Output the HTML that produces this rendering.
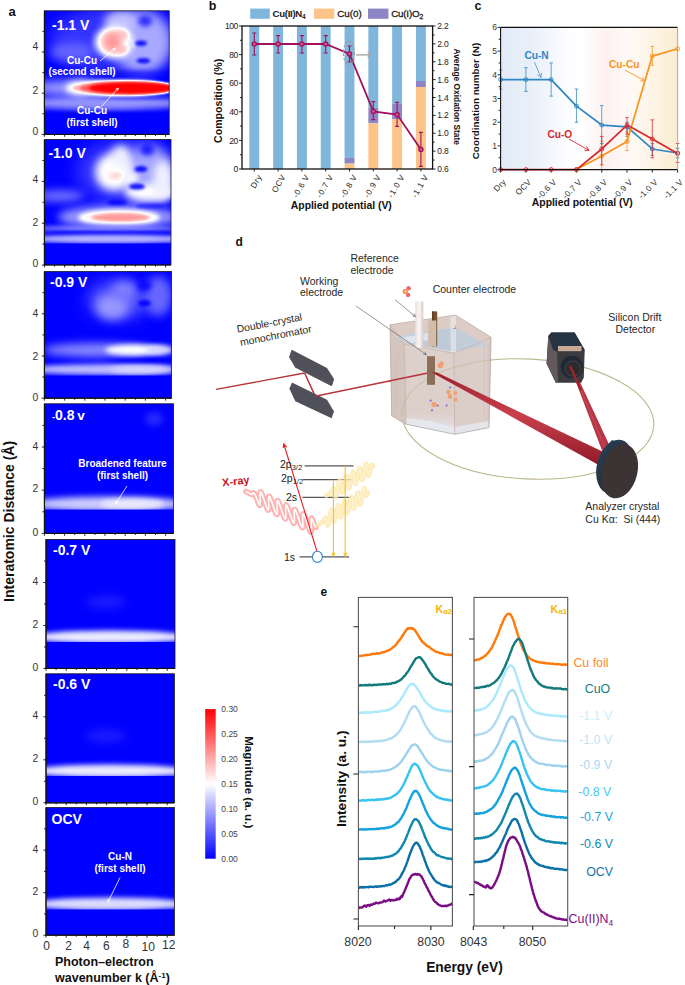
<!DOCTYPE html>
<html><head><meta charset="utf-8"><style>
html,body{margin:0;padding:0;background:#fff;}
svg{display:block;font-family:"Liberation Sans", sans-serif;}
</style></head><body>
<svg width="685" height="985" viewBox="0 0 685 985">
<rect width="685" height="985" fill="#fff"/>
<defs><filter id="cmap" x="0" y="0" width="1" height="1" color-interpolation-filters="sRGB"><feComponentTransfer><feFuncR type="table" tableValues="0 1 1"/><feFuncG type="table" tableValues="0 1 0"/><feFuncB type="table" tableValues="1 1 0"/></feComponentTransfer></filter><filter id="b0_6" x="-1" y="-1" width="3" height="3" color-interpolation-filters="sRGB"><feGaussianBlur stdDeviation="0.6"/></filter><filter id="b0_7" x="-1" y="-1" width="3" height="3" color-interpolation-filters="sRGB"><feGaussianBlur stdDeviation="0.7"/></filter><filter id="b1" x="-1" y="-1" width="3" height="3" color-interpolation-filters="sRGB"><feGaussianBlur stdDeviation="1"/></filter><filter id="b1_2" x="-1" y="-1" width="3" height="3" color-interpolation-filters="sRGB"><feGaussianBlur stdDeviation="1.2"/></filter><filter id="b1_4" x="-1" y="-1" width="3" height="3" color-interpolation-filters="sRGB"><feGaussianBlur stdDeviation="1.4"/></filter><filter id="b1_5" x="-1" y="-1" width="3" height="3" color-interpolation-filters="sRGB"><feGaussianBlur stdDeviation="1.5"/></filter><filter id="b1_6" x="-1" y="-1" width="3" height="3" color-interpolation-filters="sRGB"><feGaussianBlur stdDeviation="1.6"/></filter><filter id="b1_8" x="-1" y="-1" width="3" height="3" color-interpolation-filters="sRGB"><feGaussianBlur stdDeviation="1.8"/></filter><filter id="b2" x="-1" y="-1" width="3" height="3" color-interpolation-filters="sRGB"><feGaussianBlur stdDeviation="2"/></filter><filter id="b2_2" x="-1" y="-1" width="3" height="3" color-interpolation-filters="sRGB"><feGaussianBlur stdDeviation="2.2"/></filter><filter id="b2_4" x="-1" y="-1" width="3" height="3" color-interpolation-filters="sRGB"><feGaussianBlur stdDeviation="2.4"/></filter><filter id="b2_5" x="-1" y="-1" width="3" height="3" color-interpolation-filters="sRGB"><feGaussianBlur stdDeviation="2.5"/></filter><filter id="b2_6" x="-1" y="-1" width="3" height="3" color-interpolation-filters="sRGB"><feGaussianBlur stdDeviation="2.6"/></filter><filter id="b3" x="-1" y="-1" width="3" height="3" color-interpolation-filters="sRGB"><feGaussianBlur stdDeviation="3"/></filter><filter id="b3_5" x="-1" y="-1" width="3" height="3" color-interpolation-filters="sRGB"><feGaussianBlur stdDeviation="3.5"/></filter><filter id="b4" x="-1" y="-1" width="3" height="3" color-interpolation-filters="sRGB"><feGaussianBlur stdDeviation="4"/></filter><filter id="b5" x="-1" y="-1" width="3" height="3" color-interpolation-filters="sRGB"><feGaussianBlur stdDeviation="5"/></filter><filter id="b6" x="-1" y="-1" width="3" height="3" color-interpolation-filters="sRGB"><feGaussianBlur stdDeviation="6"/></filter><filter id="b8" x="-1" y="-1" width="3" height="3" color-interpolation-filters="sRGB"><feGaussianBlur stdDeviation="8"/></filter><clipPath id="cp0"><rect x="44.4" y="10.8" width="124.8" height="123.6"/></clipPath><clipPath id="cp1"><rect x="44.4" y="139.6" width="126.6" height="125.4"/></clipPath><clipPath id="cp2"><rect x="44.4" y="271.6" width="127.2" height="126.6"/></clipPath><clipPath id="cp3"><rect x="44.4" y="403.8" width="129.2" height="129.6"/></clipPath><clipPath id="cp4"><rect x="46" y="539.6" width="129" height="128.8"/></clipPath><clipPath id="cp5"><rect x="46" y="673.8" width="128.4" height="129"/></clipPath><clipPath id="cp6"><rect x="46" y="807.6" width="128.4" height="127.6"/></clipPath></defs>
<g clip-path="url(#cp0)"><g filter="url(#cmap)"><rect x="42.4" y="8.8" width="128.8" height="127.6" fill="#000"/><ellipse cx="108" cy="40" rx="58" ry="32" fill="#1a1a1a" filter="url(#b8)"/><ellipse cx="142" cy="42" rx="30" ry="32" fill="#545454" filter="url(#b6)"/><ellipse cx="72" cy="52" rx="22" ry="9" fill="#333333" filter="url(#b5)"/><ellipse cx="104" cy="103" rx="80" ry="7" fill="#4c4c4c" filter="url(#b3)"/><ellipse cx="72" cy="88" rx="40" ry="8" fill="#4c4c4c" filter="url(#b5)"/><ellipse cx="121" cy="88" rx="54" ry="8.6" fill="#858585" filter="url(#b1_8)"/><ellipse cx="80" cy="88" rx="15" ry="7.5" fill="#757575" filter="url(#b3)"/><ellipse cx="123" cy="88" rx="51" ry="5.9" fill="#adadad" filter="url(#b1_6)"/><ellipse cx="127" cy="88" rx="47" ry="5.8" fill="#d6d6d6" filter="url(#b1_6)"/><ellipse cx="132" cy="88" rx="43" ry="5.7" fill="#ffffff" filter="url(#b1_5)"/><ellipse cx="120" cy="22" rx="16" ry="11" fill="#616161" filter="url(#b4)"/><ellipse cx="114" cy="42" rx="19.5" ry="16.5" fill="#808080" filter="url(#b3)"/><ellipse cx="112" cy="41.8" rx="11" ry="11.5" fill="#9e9e9e" filter="url(#b2_4)"/><ellipse cx="120.5" cy="35.5" rx="7.5" ry="6" fill="#9e9e9e" filter="url(#b2_2)"/><ellipse cx="120" cy="49" rx="7.5" ry="5.5" fill="#9e9e9e" filter="url(#b2_2)"/><ellipse cx="112.5" cy="41.5" rx="7" ry="8" fill="#b2b2b2" filter="url(#b2_6)"/><ellipse cx="128.5" cy="43" rx="3.5" ry="3" fill="#808080" filter="url(#b1_6)"/><ellipse cx="132" cy="43.5" rx="3.5" ry="3.5" fill="#707070" filter="url(#b1_5)"/><ellipse cx="141" cy="43.3" rx="6" ry="2.8" fill="#000000" opacity="0.9" filter="url(#b1_5)"/><ellipse cx="143.4" cy="60.8" rx="7" ry="2.8" fill="#000000" opacity="0.9" filter="url(#b1_5)"/><ellipse cx="145" cy="21" rx="7" ry="5.5" fill="#000000" opacity="0.7" filter="url(#b2_5)"/><ellipse cx="138" cy="73.5" rx="32" ry="2.5" fill="#000000" opacity="0.6" filter="url(#b2)"/><ellipse cx="135" cy="98.5" rx="35" ry="1.2" fill="#000000" opacity="0.35" filter="url(#b1)"/><rect x="40" y="112.5" width="140" height="30" fill="#000000" filter="url(#b1_6)"/></g></g>
<rect x="44.4" y="10.8" width="124.8" height="123.6" fill="none" stroke="#1a1a1a" stroke-width="0.8"/>
<path d="M44.4 10.8V134.4H169.2" fill="none" stroke="#111" stroke-width="1.2"/>
<path d="M44.4 134.4h-2.6M44.4 113.8h-2M44.4 93.2h-2.6M44.4 72.6h-2M44.4 52h-2.6M44.4 31.4h-2M44.4 134.4v2.4M54.5 134.4v1.6M64.6 134.4v2.4M74.7 134.4v1.6M84.8 134.4v2.4M94.9 134.4v1.6M105 134.4v2.4M115.1 134.4v1.6M125.2 134.4v2.4M135.3 134.4v1.6M145.4 134.4v2.4M155.5 134.4v1.6M165.6 134.4v2.4" stroke="#111" stroke-width="0.9" fill="none"/>
<text x="38.4" y="135.22" font-size="10.4" fill="#333" text-anchor="end">0</text>
<text x="38.4" y="93.52" font-size="10.4" fill="#333" text-anchor="end">2</text>
<text x="38.4" y="50.42" font-size="10.4" fill="#333" text-anchor="end">4</text>
<text x="52" y="29.6" font-size="14" font-weight="bold" fill="#fff">-1.1 V</text>
<g clip-path="url(#cp1)"><g filter="url(#cmap)"><rect x="42.4" y="137.6" width="130.6" height="129.4" fill="#000"/><ellipse cx="124" cy="172" rx="48" ry="33" fill="#1a1a1a" filter="url(#b8)"/><ellipse cx="148" cy="175" rx="26" ry="30" fill="#525252" filter="url(#b6)"/><ellipse cx="60" cy="196" rx="24" ry="6" fill="#383838" filter="url(#b4)"/><ellipse cx="118" cy="217" rx="60" ry="12" fill="#4c4c4c" filter="url(#b4)"/><ellipse cx="119" cy="217.5" rx="41" ry="8" fill="#858585" filter="url(#b2)"/><ellipse cx="120.5" cy="217.4" rx="29" ry="4.2" fill="#b2b2b2" filter="url(#b1_8)"/><ellipse cx="114" cy="172" rx="19" ry="19" fill="#808080" filter="url(#b4)"/><ellipse cx="121" cy="157" rx="10" ry="12" fill="#787878" filter="url(#b4)"/><ellipse cx="150" cy="192" rx="25" ry="8" fill="#808080" filter="url(#b3_5)"/><ellipse cx="163" cy="180" rx="10" ry="20" fill="#787878" filter="url(#b4)"/><ellipse cx="130" cy="178" rx="9" ry="5" fill="#7a7a7a" filter="url(#b2_5)"/><ellipse cx="115.5" cy="175.8" rx="6.5" ry="3.6" fill="#969696" filter="url(#b2_2)"/><ellipse cx="140.9" cy="169.1" rx="6.5" ry="3" fill="#000000" opacity="0.9" filter="url(#b1_6)"/><ellipse cx="137" cy="186.6" rx="8" ry="3" fill="#000000" opacity="0.9" filter="url(#b1_6)"/><ellipse cx="147.2" cy="149.8" rx="7" ry="6" fill="#000000" opacity="0.75" filter="url(#b2_5)"/><ellipse cx="117" cy="202.5" rx="10" ry="2.5" fill="#000000" opacity="0.85" filter="url(#b1_8)"/><ellipse cx="150" cy="206" rx="14" ry="2.5" fill="#000000" opacity="0.6" filter="url(#b1_8)"/><ellipse cx="105" cy="228.5" rx="75" ry="3" fill="#454545" filter="url(#b2)"/><ellipse cx="110" cy="239" rx="80" ry="4.6" fill="#5c5c5c" filter="url(#b2)"/><ellipse cx="110" cy="232.2" rx="60" ry="1.5" fill="#000000" opacity="0.7" filter="url(#b1_2)"/><rect x="40" y="243.5" width="140" height="30" fill="#000000" filter="url(#b0_7)"/></g></g>
<rect x="44.4" y="139.6" width="126.6" height="125.4" fill="none" stroke="#1a1a1a" stroke-width="0.8"/>
<path d="M44.4 139.6V265H171" fill="none" stroke="#111" stroke-width="1.2"/>
<path d="M44.4 265h-2.6M44.4 244.1h-2M44.4 223.2h-2.6M44.4 202.3h-2M44.4 181.4h-2.6M44.4 160.5h-2M44.4 265v2.4M54.5 265v1.6M64.6 265v2.4M74.7 265v1.6M84.8 265v2.4M94.9 265v1.6M105 265v2.4M115.1 265v1.6M125.2 265v2.4M135.3 265v1.6M145.4 265v2.4M155.5 265v1.6M165.6 265v2.4" stroke="#111" stroke-width="0.9" fill="none"/>
<text x="38.4" y="267.12" font-size="10.4" fill="#333" text-anchor="end">0</text>
<text x="38.4" y="225.52" font-size="10.4" fill="#333" text-anchor="end">2</text>
<text x="38.4" y="183.02" font-size="10.4" fill="#333" text-anchor="end">4</text>
<text x="48.4" y="157.9" font-size="14" font-weight="bold" fill="#fff">-1.0 V</text>
<g clip-path="url(#cp2)"><g filter="url(#cmap)"><rect x="42.4" y="269.6" width="131.2" height="130.6" fill="#000"/><ellipse cx="118" cy="300" rx="30" ry="19" fill="#2e2e2e" filter="url(#b8)"/><ellipse cx="112" cy="307" rx="16" ry="12" fill="#4c4c4c" filter="url(#b5)"/><ellipse cx="124" cy="290" rx="12" ry="9" fill="#404040" filter="url(#b5)"/><ellipse cx="158" cy="296" rx="14" ry="20" fill="#333333" filter="url(#b5)"/><ellipse cx="98" cy="350" rx="55" ry="7" fill="#454545" filter="url(#b4)"/><ellipse cx="135" cy="350" rx="30" ry="5.4" fill="#808080" filter="url(#b2_6)"/><ellipse cx="160" cy="350" rx="14" ry="5" fill="#6b6b6b" filter="url(#b2_6)"/><ellipse cx="108" cy="369.5" rx="85" ry="5.4" fill="#5e5e5e" filter="url(#b2_5)"/><ellipse cx="140" cy="369.5" rx="30" ry="4" fill="#6b6b6b" filter="url(#b2_5)"/><ellipse cx="140" cy="360.4" rx="35" ry="1.8" fill="#000000" opacity="0.6" filter="url(#b1_4)"/><ellipse cx="144.5" cy="303.3" rx="6.5" ry="3.2" fill="#000000" opacity="0.9" filter="url(#b1_6)"/><ellipse cx="144.5" cy="286" rx="7" ry="5" fill="#000000" opacity="0.8" filter="url(#b2_5)"/><rect x="40" y="375.6" width="140" height="30" fill="#000000" filter="url(#b0_7)"/></g></g>
<rect x="44.4" y="271.6" width="127.2" height="126.6" fill="none" stroke="#1a1a1a" stroke-width="0.8"/>
<path d="M44.4 271.6V398.2H171.6" fill="none" stroke="#111" stroke-width="1.2"/>
<path d="M44.4 398.2h-2.6M44.4 377.1h-2M44.4 356h-2.6M44.4 334.9h-2M44.4 313.8h-2.6M44.4 292.7h-2M44.4 398.2v2.4M54.5 398.2v1.6M64.6 398.2v2.4M74.7 398.2v1.6M84.8 398.2v2.4M94.9 398.2v1.6M105 398.2v2.4M115.1 398.2v1.6M125.2 398.2v2.4M135.3 398.2v1.6M145.4 398.2v2.4M155.5 398.2v1.6M165.6 398.2v2.4" stroke="#111" stroke-width="0.9" fill="none"/>
<text x="38.4" y="401.22" font-size="10.4" fill="#333" text-anchor="end">0</text>
<text x="38.4" y="359.52" font-size="10.4" fill="#333" text-anchor="end">2</text>
<text x="38.4" y="316.92" font-size="10.4" fill="#333" text-anchor="end">4</text>
<text x="50" y="286.5" font-size="14" font-weight="bold" fill="#fff">-0.9 V</text>
<g clip-path="url(#cp3)"><g filter="url(#cmap)"><rect x="42.4" y="401.8" width="133.2" height="133.6" fill="#000"/><ellipse cx="154" cy="419" rx="9" ry="7" fill="#141414" filter="url(#b3)"/><ellipse cx="108" cy="504" rx="80" ry="7.5" fill="#666666" filter="url(#b3)"/><ellipse cx="132" cy="504" rx="32" ry="5" fill="#757575" filter="url(#b2_5)"/><rect x="40" y="509.6" width="140" height="30" fill="#000000" filter="url(#b0_6)"/></g></g>
<rect x="44.4" y="403.8" width="129.2" height="129.6" fill="none" stroke="#1a1a1a" stroke-width="0.8"/>
<path d="M44.4 403.8V533.4H173.6" fill="none" stroke="#111" stroke-width="1.2"/>
<path d="M44.4 533.4h-2.6M44.4 511.8h-2M44.4 490.2h-2.6M44.4 468.6h-2M44.4 447h-2.6M44.4 425.4h-2M44.4 533.4v2.4M54.5 533.4v1.6M64.6 533.4v2.4M74.7 533.4v1.6M84.8 533.4v2.4M94.9 533.4v1.6M105 533.4v2.4M115.1 533.4v1.6M125.2 533.4v2.4M135.3 533.4v1.6M145.4 533.4v2.4M155.5 533.4v1.6M165.6 533.4v2.4" stroke="#111" stroke-width="0.9" fill="none"/>
<text x="38.4" y="535.62" font-size="10.4" fill="#333" text-anchor="end">0</text>
<text x="38.4" y="491.92" font-size="10.4" fill="#333" text-anchor="end">2</text>
<text x="38.4" y="449.82" font-size="10.4" fill="#333" text-anchor="end">4</text>
<text x="52" y="420.3" font-size="14" font-weight="bold" fill="#fff"><tspan font-size="9">-</tspan>0.8 <tspan font-size="13.5" dx="-1.2">v</tspan></text>
<g clip-path="url(#cp4)"><g filter="url(#cmap)"><rect x="44" y="537.6" width="133" height="132.8" fill="#000"/><ellipse cx="106" cy="602" rx="20" ry="6" fill="#0f0f0f" filter="url(#b4)"/><ellipse cx="110" cy="637" rx="80" ry="6.5" fill="#757575" filter="url(#b2_5)"/><rect x="40" y="642" width="140" height="30" fill="#000000" filter="url(#b0_6)"/></g></g>
<rect x="46" y="539.6" width="129" height="128.8" fill="none" stroke="#1a1a1a" stroke-width="0.8"/>
<path d="M46 539.6V668.4H175" fill="none" stroke="#111" stroke-width="1.2"/>
<path d="M46 668.4h-2.6M46 646.93h-2M46 625.47h-2.6M46 604h-2M46 582.53h-2.6M46 561.07h-2M46 668.4v2.4M56.1 668.4v1.6M66.2 668.4v2.4M76.3 668.4v1.6M86.4 668.4v2.4M96.5 668.4v1.6M106.6 668.4v2.4M116.7 668.4v1.6M126.8 668.4v2.4M136.9 668.4v1.6M147 668.4v2.4M157.1 668.4v1.6M167.2 668.4v2.4" stroke="#111" stroke-width="0.9" fill="none"/>
<text x="38.4" y="670.62" font-size="10.4" fill="#333" text-anchor="end">0</text>
<text x="38.4" y="627.69" font-size="10.4" fill="#333" text-anchor="end">2</text>
<text x="38.4" y="585.05" font-size="10.4" fill="#333" text-anchor="end">4</text>
<text x="53" y="554.9" font-size="14" font-weight="bold" fill="#fff">-0.7 V</text>
<g clip-path="url(#cp5)"><g filter="url(#cmap)"><rect x="44" y="671.8" width="132.4" height="133" fill="#000"/><ellipse cx="106" cy="736" rx="20" ry="6" fill="#0f0f0f" filter="url(#b4)"/><ellipse cx="110" cy="771" rx="80" ry="6.5" fill="#757575" filter="url(#b2_5)"/><rect x="40" y="776" width="140" height="30" fill="#000000" filter="url(#b0_6)"/></g></g>
<rect x="46" y="673.8" width="128.4" height="129" fill="none" stroke="#1a1a1a" stroke-width="0.8"/>
<path d="M46 673.8V802.8H174.4" fill="none" stroke="#111" stroke-width="1.2"/>
<path d="M46 802.8h-2.6M46 781.3h-2M46 759.8h-2.6M46 738.3h-2M46 716.8h-2.6M46 695.3h-2M46 802.8v2.4M56.1 802.8v1.6M66.2 802.8v2.4M76.3 802.8v1.6M86.4 802.8v2.4M96.5 802.8v1.6M106.6 802.8v2.4M116.7 802.8v1.6M126.8 802.8v2.4M136.9 802.8v1.6M147 802.8v2.4M157.1 802.8v1.6M167.2 802.8v2.4" stroke="#111" stroke-width="0.9" fill="none"/>
<text x="38.4" y="805.02" font-size="10.4" fill="#333" text-anchor="end">0</text>
<text x="38.4" y="762.02" font-size="10.4" fill="#333" text-anchor="end">2</text>
<text x="38.4" y="719.32" font-size="10.4" fill="#333" text-anchor="end">4</text>
<text x="53" y="688.9" font-size="14" font-weight="bold" fill="#fff">-0.6 V</text>
<g clip-path="url(#cp6)"><g filter="url(#cmap)"><rect x="44" y="805.6" width="132.4" height="131.6" fill="#000"/><ellipse cx="110" cy="904" rx="80" ry="6.5" fill="#6e6e6e" filter="url(#b2_5)"/><rect x="40" y="909.5" width="140" height="30" fill="#000000" filter="url(#b0_6)"/></g></g>
<rect x="46" y="807.6" width="128.4" height="127.6" fill="none" stroke="#1a1a1a" stroke-width="0.8"/>
<path d="M46 807.6V935.2H174.4" fill="none" stroke="#111" stroke-width="1.2"/>
<path d="M46 935.2h-2.6M46 913.93h-2M46 892.67h-2.6M46 871.4h-2M46 850.13h-2.6M46 828.87h-2M46 935.2v2.4M56.1 935.2v1.6M66.2 935.2v2.4M76.3 935.2v1.6M86.4 935.2v2.4M96.5 935.2v1.6M106.6 935.2v2.4M116.7 935.2v1.6M126.8 935.2v2.4M136.9 935.2v1.6M147 935.2v2.4M157.1 935.2v1.6M167.2 935.2v2.4" stroke="#111" stroke-width="0.9" fill="none"/>
<text x="38.4" y="937.42" font-size="10.4" fill="#333" text-anchor="end">0</text>
<text x="38.4" y="894.89" font-size="10.4" fill="#333" text-anchor="end">2</text>
<text x="38.4" y="852.75" font-size="10.4" fill="#333" text-anchor="end">4</text>
<text x="51.6" y="823.7" font-size="14" font-weight="bold" fill="#fff">OCV</text>
<text x="46.5" y="949.7" font-size="12" fill="#333" text-anchor="middle">0</text>
<text x="68.6" y="949.7" font-size="12" fill="#333" text-anchor="middle">2</text>
<text x="86.6" y="949.7" font-size="12" fill="#333" text-anchor="middle">4</text>
<text x="106.4" y="950.3" font-size="12" fill="#333" text-anchor="middle">6</text>
<text x="125.8" y="948.3" font-size="12" fill="#333" text-anchor="middle">8</text>
<text x="148.3" y="951" font-size="12" fill="#333" text-anchor="middle">10</text>
<text x="168.8" y="948.9" font-size="12" fill="#333" text-anchor="middle">12</text>
<g font-weight="bold" fill="#fff" font-size="10" text-anchor="middle">
<text x="82" y="63.6">Cu-Cu</text><text x="82" y="75">(second shell)</text>
<text x="92" y="114">Cu-Cu</text><text x="92" y="126">(first shell)</text>
<text x="122.5" y="467">Broadened feature</text><text x="122.5" y="479">(first shell)</text>
<text x="120" y="860">Cu-N</text><text x="120" y="871.6">(first shell)</text>
</g>
<path d="M100 61L115.6 48M114.24 50.9L115.6 48L112.51 48.82" stroke="#fff" stroke-width="0.8" fill="none"/>
<path d="M101 107L118.4 88M117.44 91.05L118.4 88L115.44 89.23" stroke="#fff" stroke-width="0.8" fill="none"/>
<path d="M127 486L115.5 504M115.92 500.83L115.5 504L118.2 502.28" stroke="#fff" stroke-width="0.8" fill="none"/>
<path d="M120 877.6L108 902M108.07 898.8L108 902L110.49 899.99" stroke="#fff" stroke-width="0.8" fill="none"/>
<text x="8.6" y="16.2" font-size="13" font-weight="bold" fill="#111">a</text>
<text transform="translate(14.4 521.4) rotate(-90)" font-size="14" font-weight="bold" fill="#111" text-anchor="middle">Interatomic Distance (Å)</text>
<text x="55" y="966" font-size="12.5" font-weight="bold" fill="#111">Photon–electron</text>
<text x="55" y="982" font-size="12.5" font-weight="bold" fill="#111">wavenumber k (Å<tspan font-size="8" dy="-4.5">-1</tspan><tspan dy="4.5">)</tspan></text>
<defs><linearGradient id="cbar" x1="0" y1="1" x2="0" y2="0"><stop offset="0" stop-color="#0000ff"/><stop offset="0.5" stop-color="#ffffff"/><stop offset="1" stop-color="#ff0000"/></linearGradient></defs>
<rect x="205.2" y="709.1" width="10.5" height="149.6" fill="url(#cbar)"/>
<text x="221.3" y="712.1" font-size="8.5" fill="#444">0.30</text>
<text x="221.3" y="737.03" font-size="8.5" fill="#444">0.25</text>
<text x="221.3" y="761.97" font-size="8.5" fill="#444">0.20</text>
<text x="221.3" y="786.9" font-size="8.5" fill="#444">0.15</text>
<text x="221.3" y="811.83" font-size="8.5" fill="#444">0.10</text>
<text x="221.3" y="836.77" font-size="8.5" fill="#444">0.05</text>
<text x="221.3" y="861.7" font-size="8.5" fill="#444">0.00</text>
<text transform="translate(245.2 782.2) rotate(90)" font-size="11.6" font-weight="bold" fill="#111" text-anchor="middle">Magnitude (a. u.)</text>
<text x="208.8" y="10.2" font-size="12.5" font-weight="bold" fill="#111">b</text>
<rect x="249.35" y="26" width="9.9" height="143" fill="#80b6dc"/>
<rect x="273.15" y="26" width="9.9" height="143" fill="#80b6dc"/>
<rect x="296.95" y="26" width="9.9" height="143" fill="#80b6dc"/>
<rect x="320.75" y="26" width="9.9" height="143" fill="#80b6dc"/>
<rect x="344.55" y="26" width="9.9" height="132" fill="#80b6dc"/>
<rect x="344.55" y="158" width="9.9" height="5.6" fill="#8d86c6"/>
<rect x="344.55" y="163.6" width="9.9" height="5.4" fill="#fdc48a"/>
<rect x="368.35" y="26" width="9.9" height="82" fill="#80b6dc"/>
<rect x="368.35" y="108" width="9.9" height="15.4" fill="#8d86c6"/>
<rect x="368.35" y="123.4" width="9.9" height="45.6" fill="#fdc48a"/>
<rect x="392.15" y="26" width="9.9" height="78" fill="#80b6dc"/>
<rect x="392.15" y="104" width="9.9" height="15" fill="#8d86c6"/>
<rect x="392.15" y="119" width="9.9" height="50" fill="#fdc48a"/>
<rect x="415.95" y="26" width="9.9" height="55" fill="#80b6dc"/>
<rect x="415.95" y="81" width="9.9" height="6" fill="#8d86c6"/>
<rect x="415.95" y="87" width="9.9" height="82" fill="#fdc48a"/>
<rect x="242" y="26" width="190.6" height="143" fill="none" stroke="#111" stroke-width="1.3"/>
<path d="M242 169h-3M242 154.7h-2M242 140.4h-3M242 126.1h-2M242 111.8h-3M242 97.5h-2M242 83.2h-3M242 68.9h-2M242 54.6h-3M242 40.3h-2M242 26h-3M432.6 169h3M432.6 160.06h2M432.6 151.12h3M432.6 142.19h2M432.6 133.25h3M432.6 124.31h2M432.6 115.38h3M432.6 106.44h2M432.6 97.5h3M432.6 88.56h2M432.6 79.62h3M432.6 70.69h2M432.6 61.75h3M432.6 52.81h2M432.6 43.88h3M432.6 34.94h2M432.6 26h3M254.3 169v2.5M278.1 169v2.5M301.9 169v2.5M325.7 169v2.5M349.5 169v2.5M373.3 169v2.5M397.1 169v2.5M420.9 169v2.5" stroke="#111" stroke-width="0.9"/>
<text x="237.6" y="172.1" font-size="8.6" fill="#222" text-anchor="end" letter-spacing="-0.6">0</text>
<text x="237.6" y="143.5" font-size="8.6" fill="#222" text-anchor="end" letter-spacing="-0.6">20</text>
<text x="237.6" y="114.9" font-size="8.6" fill="#222" text-anchor="end" letter-spacing="-0.6">40</text>
<text x="237.6" y="86.3" font-size="8.6" fill="#222" text-anchor="end" letter-spacing="-0.6">60</text>
<text x="237.6" y="57.7" font-size="8.6" fill="#222" text-anchor="end" letter-spacing="-0.6">80</text>
<text x="237.6" y="29.1" font-size="8.6" fill="#222" text-anchor="end" letter-spacing="-0.6">100</text>
<text x="437.2" y="172" font-size="8.5" fill="#222" letter-spacing="-0.2">0.6</text>
<text x="437.2" y="154.12" font-size="8.5" fill="#222" letter-spacing="-0.2">0.8</text>
<text x="437.2" y="136.25" font-size="8.5" fill="#222" letter-spacing="-0.2">1.0</text>
<text x="437.2" y="118.38" font-size="8.5" fill="#222" letter-spacing="-0.2">1.2</text>
<text x="437.2" y="100.5" font-size="8.5" fill="#222" letter-spacing="-0.2">1.4</text>
<text x="437.2" y="82.62" font-size="8.5" fill="#222" letter-spacing="-0.2">1.6</text>
<text x="437.2" y="64.75" font-size="8.5" fill="#222" letter-spacing="-0.2">1.8</text>
<text x="437.2" y="46.88" font-size="8.5" fill="#222" letter-spacing="-0.2">2.0</text>
<text x="437.2" y="29" font-size="8.5" fill="#222" letter-spacing="-0.2">2.2</text>
<polyline points="254.3,44 278.1,44 301.9,44 325.7,44 349.5,54 373.3,111.4 397.1,114.6 420.9,149.6" fill="none" stroke="#a0125e" stroke-width="1.8"/>
<path d="M254.3 33V55M252.3 33h4M252.3 55h4M278.1 35.6V53M276.1 35.6h4M276.1 53h4M301.9 35.6V53M299.9 35.6h4M299.9 53h4M325.7 35.6V53M323.7 35.6h4M323.7 53h4M349.5 46V62M347.5 46h4M347.5 62h4M373.3 101.6V119.6M371.3 101.6h4M371.3 119.6h4M397.1 102.4V126.4M395.1 102.4h4M395.1 126.4h4M420.9 132.4V166.4M418.9 132.4h4M418.9 166.4h4" stroke="#a0125e" stroke-width="1.1" fill="none"/>
<circle cx="254.3" cy="44" r="2.1" fill="#d0558e" stroke="#a0125e" stroke-width="1.3"/>
<circle cx="278.1" cy="44" r="2.1" fill="#d0558e" stroke="#a0125e" stroke-width="1.3"/>
<circle cx="301.9" cy="44" r="2.1" fill="#d0558e" stroke="#a0125e" stroke-width="1.3"/>
<circle cx="325.7" cy="44" r="2.1" fill="#d0558e" stroke="#a0125e" stroke-width="1.3"/>
<circle cx="349.5" cy="54" r="2.1" fill="#d0558e" stroke="#a0125e" stroke-width="1.3"/>
<circle cx="373.3" cy="111.4" r="2.1" fill="#d0558e" stroke="#a0125e" stroke-width="1.3"/>
<circle cx="397.1" cy="114.6" r="2.1" fill="#d0558e" stroke="#a0125e" stroke-width="1.3"/>
<circle cx="420.9" cy="149.6" r="2.1" fill="#d0558e" stroke="#a0125e" stroke-width="1.3"/>
<ellipse cx="348.9" cy="53.1" rx="5.4" ry="12" fill="none" stroke="#999" stroke-width="1.1" stroke-dasharray="2.4 1.8"/>
<path d="M356 54.9H370" stroke="#a8a8a8" stroke-width="1.4"/><path d="M367.69 57.49L371 54.9L367.69 52.31" stroke="#a8a8a8" stroke-width="1.4" fill="none"/>
<rect x="250.2" y="8.6" width="19.6" height="10.2" fill="#80b6dc"/>
<rect x="313.9" y="8.6" width="20.4" height="10.2" fill="#fdc48a"/>
<rect x="368" y="8.6" width="20.4" height="10.2" fill="#8d86c6"/>
<g fill="#1a1a1a">
<text x="272.6" y="17.4" font-size="9.6" font-weight="bold" letter-spacing="-0.3">Cu(II)N<tspan font-size="6.5" dy="1.5">4</tspan></text>
<text x="337.2" y="17.4" font-size="9.8" stroke="#1a1a1a" stroke-width="0.3">Cu(0)</text>
<text x="391.2" y="17.4" font-size="9.8" letter-spacing="-0.2" stroke="#1a1a1a" stroke-width="0.3">Cu(I)O<tspan font-size="6.8" dy="1.5">2</tspan></text>
</g>
<text transform="translate(221.5 100.9) rotate(-90)" font-size="10.6" font-weight="bold" fill="#111" text-anchor="middle">Composition (%)</text>
<text transform="translate(454.4 96.7) rotate(90)" font-size="8.4" fill="#111" text-anchor="middle" font-weight="bold">Average Oxidation State</text>
<text x="341.3" y="209.4" font-size="10.4" font-weight="bold" fill="#111" text-anchor="middle">Applied potential (V)</text>
<text transform="translate(262.3 176.4) rotate(-60)" font-size="8.2" fill="#222" text-anchor="end" letter-spacing="0.6">Dry</text>
<text transform="translate(286.1 176.4) rotate(-60)" font-size="8.2" fill="#222" text-anchor="end" letter-spacing="0.6">OCV</text>
<text transform="translate(309.9 176.4) rotate(-60)" font-size="8.2" fill="#222" text-anchor="end" letter-spacing="0.6">-0.6 V</text>
<text transform="translate(333.7 176.4) rotate(-60)" font-size="8.2" fill="#222" text-anchor="end" letter-spacing="0.6">-0.7 V</text>
<text transform="translate(357.5 176.4) rotate(-60)" font-size="8.2" fill="#222" text-anchor="end" letter-spacing="0.6">-0.8 V</text>
<text transform="translate(381.3 176.4) rotate(-60)" font-size="8.2" fill="#222" text-anchor="end" letter-spacing="0.6">-0.9 V</text>
<text transform="translate(405.1 176.4) rotate(-60)" font-size="8.2" fill="#222" text-anchor="end" letter-spacing="0.6">-1.0 V</text>
<text transform="translate(428.9 176.4) rotate(-60)" font-size="8.2" fill="#222" text-anchor="end" letter-spacing="0.6">-1.1 V</text>
<text x="474.4" y="10.4" font-size="12.5" font-weight="bold" fill="#111">c</text>
<defs><linearGradient id="cbg" x1="0" y1="0" x2="1" y2="0"><stop offset="0" stop-color="#e2ebf7"/><stop offset="0.18" stop-color="#e9f0f9"/><stop offset="0.36" stop-color="#fbfcfe"/><stop offset="0.45" stop-color="#ffffff"/><stop offset="0.6" stop-color="#fdf1f0"/><stop offset="0.72" stop-color="#fefaf7"/><stop offset="0.82" stop-color="#fef6ea"/><stop offset="1" stop-color="#fbedd3"/></linearGradient></defs>
<rect x="500.6" y="27.4" width="177" height="142.2" fill="url(#cbg)"/>
<path d="M500.6 169.6h-3M500.6 157.75h-2M500.6 145.9h-3M500.6 134.05h-2M500.6 122.2h-3M500.6 110.35h-2M500.6 98.5h-3M500.6 86.65h-2M500.6 74.8h-3M500.6 62.95h-2M500.6 51.1h-3M500.6 39.25h-2M500.6 27.4h-3M500.6 169.6v3M525.89 169.6v3M551.17 169.6v3M576.46 169.6v3M601.74 169.6v3M627.03 169.6v3M652.31 169.6v3M677.6 169.6v3" stroke="#111" stroke-width="0.9"/>
<text x="497" y="172.6" font-size="8.5" fill="#333" text-anchor="end">0</text>
<text x="497" y="148.9" font-size="8.5" fill="#333" text-anchor="end">1</text>
<text x="497" y="125.2" font-size="8.5" fill="#333" text-anchor="end">2</text>
<text x="497" y="101.5" font-size="8.5" fill="#333" text-anchor="end">3</text>
<text x="497" y="77.8" font-size="8.5" fill="#333" text-anchor="end">4</text>
<text x="497" y="54.1" font-size="8.5" fill="#333" text-anchor="end">5</text>
<text x="497" y="30.4" font-size="8.5" fill="#333" text-anchor="end">6</text>
<path d="M500.6 70.06V89.02M498.8 70.06h3.6M498.8 89.02h3.6M525.89 67.69V91.39M524.09 67.69h3.6M524.09 91.39h3.6M551.17 62.95V96.13M549.37 62.95h3.6M549.37 96.13h3.6M576.46 89.02V122.2M574.66 89.02h3.6M574.66 122.2h3.6M601.74 105.61V143.53M599.94 105.61h3.6M599.94 143.53h3.6M627.03 122.2V136.42M625.23 122.2h3.6M625.23 136.42h3.6M652.31 143.53V155.38M650.51 143.53h3.6M650.51 155.38h3.6M677.6 148.27V157.75M675.8 148.27h3.6M675.8 157.75h3.6" stroke="#2f86c4" stroke-width="0.9" fill="none" opacity="0.85"/>
<polyline points="500.6,79.54 525.89,79.54 551.17,79.54 576.46,106.08 601.74,125.04 627.03,126.94 652.31,148.98 677.6,153.01" fill="none" stroke="#2f86c4" stroke-width="1.7" stroke-linejoin="round"/>
<circle cx="500.6" cy="79.54" r="2" fill="none" stroke="#2f86c4" stroke-width="0.9"/>
<circle cx="525.89" cy="79.54" r="2" fill="none" stroke="#2f86c4" stroke-width="0.9"/>
<circle cx="551.17" cy="79.54" r="2" fill="none" stroke="#2f86c4" stroke-width="0.9"/>
<circle cx="576.46" cy="106.08" r="2" fill="none" stroke="#2f86c4" stroke-width="0.9"/>
<circle cx="601.74" cy="125.04" r="2" fill="none" stroke="#2f86c4" stroke-width="0.9"/>
<circle cx="627.03" cy="126.94" r="2" fill="none" stroke="#2f86c4" stroke-width="0.9"/>
<circle cx="652.31" cy="148.98" r="2" fill="none" stroke="#2f86c4" stroke-width="0.9"/>
<circle cx="677.6" cy="153.01" r="2" fill="none" stroke="#2f86c4" stroke-width="0.9"/>
<path d="M601.74 141.16V169.6M599.94 141.16h3.6M599.94 169.6h3.6M627.03 131.68V150.64M625.23 131.68h3.6M625.23 150.64h3.6M652.31 46.36V65.32M650.51 46.36h3.6M650.51 65.32h3.6" stroke="#f7941d" stroke-width="0.9" fill="none" opacity="0.85"/>
<polyline points="576.46,169.6 601.74,156.09 627.03,141.4 652.31,56.08 677.6,48.73" fill="none" stroke="#f7941d" stroke-width="1.7" stroke-linejoin="round"/>
<circle cx="576.46" cy="169.6" r="2" fill="none" stroke="#f7941d" stroke-width="0.9"/>
<circle cx="601.74" cy="156.09" r="2" fill="none" stroke="#f7941d" stroke-width="0.9"/>
<circle cx="627.03" cy="141.4" r="2" fill="none" stroke="#f7941d" stroke-width="0.9"/>
<circle cx="652.31" cy="56.08" r="2" fill="none" stroke="#f7941d" stroke-width="0.9"/>
<circle cx="677.6" cy="48.73" r="2" fill="none" stroke="#f7941d" stroke-width="0.9"/>
<path d="M601.74 136.42V164.86M599.94 136.42h3.6M599.94 164.86h3.6M627.03 117.46V134.05M625.23 117.46h3.6M625.23 134.05h3.6M652.31 119.83V157.75M650.51 119.83h3.6M650.51 157.75h3.6M677.6 143.53V162.49M675.8 143.53h3.6M675.8 162.49h3.6" stroke="#d7282f" stroke-width="0.9" fill="none" opacity="0.85"/>
<polyline points="500.6,169.6 525.89,169.6 551.17,169.6 576.46,169.6 601.74,148.98 627.03,125.04 652.31,139.03 677.6,153.48" fill="none" stroke="#d7282f" stroke-width="1.7" stroke-linejoin="round"/>
<circle cx="500.6" cy="169.6" r="2" fill="none" stroke="#d7282f" stroke-width="0.9"/>
<circle cx="525.89" cy="169.6" r="2" fill="none" stroke="#d7282f" stroke-width="0.9"/>
<circle cx="551.17" cy="169.6" r="2" fill="none" stroke="#d7282f" stroke-width="0.9"/>
<circle cx="576.46" cy="169.6" r="2" fill="none" stroke="#d7282f" stroke-width="0.9"/>
<circle cx="601.74" cy="148.98" r="2" fill="none" stroke="#d7282f" stroke-width="0.9"/>
<circle cx="627.03" cy="125.04" r="2" fill="none" stroke="#d7282f" stroke-width="0.9"/>
<circle cx="652.31" cy="139.03" r="2" fill="none" stroke="#d7282f" stroke-width="0.9"/>
<circle cx="677.6" cy="153.48" r="2" fill="none" stroke="#d7282f" stroke-width="0.9"/>
<path d="M500.6 27.4H677.6M500.6 27.4V169.6H677.6" stroke="#111" stroke-width="1.1" fill="none"/>
<path d="M677.6 27.4V169.6" stroke="#b9a27a" stroke-width="0.9"/>
<text x="524.4" y="59.2" font-size="10.2" font-weight="bold" fill="#2f86c4">Cu-N</text>
<path d="M534.4 62L541 77.5" stroke="#5a9fd4" stroke-width="0.9"/><path d="M537.42 74.61L541 77.5L541.4 72.92" stroke="#5a9fd4" stroke-width="0.9" fill="none"/>
<text x="547.4" y="138" font-size="10.2" font-weight="bold" fill="#d7282f">Cu-O</text>
<path d="M569 139L589 150.4" stroke="#d7282f" stroke-width="0.9"/><path d="M584.4 150.26L589 150.4L586.54 146.51" stroke="#d7282f" stroke-width="0.9" fill="none"/>
<text x="609" y="67.6" font-size="10.2" font-weight="bold" fill="#f7941d">Cu-Cu</text>
<path d="M625 70L645 81" stroke="#f7941d" stroke-width="0.9"/><path d="M640.4 80.93L645 81L642.48 77.15" stroke="#f7941d" stroke-width="0.9" fill="none"/>
<text transform="translate(479 101) rotate(-90)" font-size="9.85" font-weight="bold" fill="#111" text-anchor="middle">Coordination number (N)</text>
<text x="582.3" y="206.2" font-size="10.4" font-weight="bold" fill="#111" text-anchor="middle">Applied potential (V)</text>
<text transform="translate(506.6 182.6) rotate(-45)" font-size="8.4" fill="#333" text-anchor="end" letter-spacing="0.2">Dry</text>
<text transform="translate(531.89 182.6) rotate(-45)" font-size="8.4" fill="#333" text-anchor="end" letter-spacing="0.2">OCV</text>
<text transform="translate(557.17 182.6) rotate(-45)" font-size="8.4" fill="#333" text-anchor="end" letter-spacing="0.2">-0.6 V</text>
<text transform="translate(582.46 182.6) rotate(-45)" font-size="8.4" fill="#333" text-anchor="end" letter-spacing="0.2">-0.7 V</text>
<text transform="translate(607.74 182.6) rotate(-45)" font-size="8.4" fill="#333" text-anchor="end" letter-spacing="0.2">-0.8 V</text>
<text transform="translate(633.03 182.6) rotate(-45)" font-size="8.4" fill="#333" text-anchor="end" letter-spacing="0.2">-0.9 V</text>
<text transform="translate(658.31 182.6) rotate(-45)" font-size="8.4" fill="#333" text-anchor="end" letter-spacing="0.2">-1.0 V</text>
<text transform="translate(683.6 182.6) rotate(-45)" font-size="8.4" fill="#333" text-anchor="end" letter-spacing="0.2">-1.1 V</text>
<text x="235.6" y="246.4" font-size="12" font-weight="bold" fill="#111">d</text>
<defs><linearGradient id="beam1" x1="0" y1="0" x2="0" y2="1"><stop offset="0" stop-color="#9e1f2c"/><stop offset="0.45" stop-color="#c8404c"/><stop offset="1" stop-color="#8e1a26"/></linearGradient><linearGradient id="tube" x1="0" y1="0" x2="1" y2="0"><stop offset="0" stop-color="#e9dedc"/><stop offset="0.5" stop-color="#fbf7f6"/><stop offset="1" stop-color="#d9cbc8"/></linearGradient><linearGradient id="cellL" x1="0" y1="0" x2="0" y2="1"><stop offset="0" stop-color="#ddd0cc"/><stop offset="1" stop-color="#d5c5bf"/></linearGradient><linearGradient id="water" x1="0" y1="0" x2="1" y2="0"><stop offset="0" stop-color="#c9d3df"/><stop offset="0.5" stop-color="#b9c8d8"/><stop offset="1" stop-color="#c5d0dc"/></linearGradient><linearGradient id="rim" x1="0" y1="0" x2="1" y2="1"><stop offset="0" stop-color="#2c4258"/><stop offset="1" stop-color="#1c2834"/></linearGradient><filter id="soft" x="-0.2" y="-0.2" width="1.4" height="1.4"><feGaussianBlur stdDeviation="0.6"/></filter></defs>
<ellipse cx="528" cy="419" rx="126" ry="60" transform="rotate(3 528 419)" fill="none" stroke="#bcb88e" stroke-width="1.1"/>
<path d="M216 389.4L304.6 373" stroke="#b8343a" stroke-width="1.4" fill="none"/>
<path d="M304.6 373L314.2 394" stroke="#b8343a" stroke-width="1.1" fill="none"/>
<polygon points="291.8,349.7 327,368.1 334.2,379.3 331.6,386 295.3,367.6 289.2,356.9" fill="#50505a"/>
<polygon points="289.2,356.9 295.3,367.6 331.6,386 333,383 296,365 291.8,349.7" fill="#55525a"/>
<polygon points="292,382.4 327,399.8 334,411.5 331.6,418.2 295.3,401.3 289.4,388.5" fill="#50505a"/>
<path d="M314.2 394L304.6 373" stroke="#b8343a" stroke-width="1.1" fill="none"/>
<path d="M315.3 396.2L428 373" stroke="#b8343a" stroke-width="1.4" fill="none"/>
<defs><linearGradient id="cf1" x1="0" y1="0" x2="0" y2="1"><stop offset="0" stop-color="#ddd0cb"/><stop offset="0.75" stop-color="#dccdc8"/><stop offset="1" stop-color="#e4e6ec"/></linearGradient><linearGradient id="cf2" x1="0" y1="0" x2="1" y2="0"><stop offset="0" stop-color="#d9cbc6"/><stop offset="0.85" stop-color="#dbcdc8"/><stop offset="1" stop-color="#cdbdb8"/></linearGradient></defs>
<polygon points="390,324.8 455.5,315.1 491.1,337.3 489,427.6 454.7,434.3 406,424.2 391.7,415.8" fill="#dacdc8" opacity="0.82"/>
<polygon points="404.3,344 453.8,353.4 454.7,434.3 406,424.2" fill="url(#cf1)" opacity="0.85"/>
<polygon points="453.8,353.4 491.1,337.3 489,427.6 454.7,434.3" fill="url(#cf2)" opacity="0.85"/>
<polygon points="390,324.8 404.3,344 406,424.2 391.7,415.8" fill="#d2c2bc" opacity="0.85"/>
<polygon points="391,325.5 455.5,315.8 490.5,337.8 488,345 455,327.5 395,336" fill="#dccbc5" opacity="0.95"/>
<polygon points="395,336 455,327.5 488,345 453.8,351.5 405,343.5" fill="url(#water)" opacity="0.92"/>
<polygon points="400,338 428,333 436,339 410,343" fill="#eef2f7" opacity="0.6"/>
<rect x="450.5" y="316" width="5.5" height="36" fill="#eef0f4" opacity="0.55"/>
<polygon points="406,418 430,421 454.7,427 488,421 489,427.6 454.7,434.3 406,424.2" fill="#e6ebf2" opacity="0.8"/>
<path d="M395 360V410M398 352V405M484 345V420" stroke="#c9b9b4" stroke-width="0.7" opacity="0.7"/>
<polyline points="390,324.8 455.5,315.1 491.1,337.3 489,427.6 454.7,434.3 406,424.2 391.7,415.8 390,324.8" fill="none" stroke="#b9aaa5" stroke-width="0.8"/>
<path d="M390 324.8L404.3 344L453.8 353.4L491.1 337.3M404.3 344L406 424.2M453.8 353.4L454.7 434.3" stroke="#c4b5b0" stroke-width="0.8" fill="none"/>
<defs><clipPath id="cellclip"><polygon points="390,324.8 455.5,315.1 491.1,337.3 489,427.6 454.7,434.3 406,424.2 391.7,415.8"/></clipPath></defs>
<ellipse cx="528" cy="419" rx="126" ry="60" transform="rotate(3 528 419)" fill="none" stroke="#bcb88e" stroke-width="1" opacity="0.55" clip-path="url(#cellclip)"/>
<path d="M389 381L428 373" stroke="#b8343a" stroke-width="1.4" fill="none"/>
<rect x="415.2" y="301.3" width="8.1" height="46.5" fill="url(#tube)"/>
<rect x="432" y="311.4" width="5.2" height="35" fill="#76522f"/>
<rect x="432.2" y="311.4" width="1.6" height="35" fill="#5b3d22"/>
<rect x="428.1" y="320.5" width="8.2" height="26" fill="#d4bcab"/>
<rect x="427" y="356.2" width="8" height="28.6" fill="#8c6f58"/>
<circle cx="440.4" cy="365.5" r="2.8" fill="#f2a070"/>
<circle cx="441.8" cy="363.4" r="2.2" fill="#f2a070"/>
<circle cx="448.5" cy="392" r="2.2" fill="#f2a070"/>
<circle cx="450" cy="396.5" r="2.4" fill="#f2a070"/>
<circle cx="455.5" cy="393" r="2" fill="#f2a070"/>
<circle cx="455.5" cy="399.5" r="2" fill="#f2a070"/>
<circle cx="434" cy="404.5" r="2.6" fill="#f2a070"/>
<circle cx="430.6" cy="400.6" r="1" fill="#7a62d8"/>
<circle cx="437.7" cy="405.6" r="1" fill="#7a62d8"/>
<circle cx="432" cy="410.3" r="1" fill="#7a62d8"/>
<circle cx="450" cy="387.5" r="1" fill="#7a62d8"/>
<circle cx="446.6" cy="405.6" r="1" fill="#7a62d8"/>
<path d="M356 306L426.3 354.6" stroke="#6a6a6a" stroke-width="0.7"/><path d="M423.12 354.23L426.3 354.6L424.83 351.76" stroke="#6a6a6a" stroke-width="0.7" fill="none"/>
<path d="M395 299.6L415.4 316.6" stroke="#6a6a6a" stroke-width="0.7"/><path d="M412.27 315.95L415.4 316.6L414.19 313.64" stroke="#6a6a6a" stroke-width="0.7" fill="none"/>
<path d="M453 328.5L456 328.5L454.97 325.68" stroke="#8a8a8a" stroke-width="0.7" fill="none"/>
<circle cx="408.6" cy="288.3" r="2.2" fill="#f06474"/><circle cx="408.1" cy="294.9" r="2.2" fill="#f06474"/><circle cx="405.3" cy="291.4" r="2.7" fill="#f39a5a"/><circle cx="405.6" cy="291.2" r="1" fill="#fcd39a"/>
<polygon points="431,372 437,372.5 608.2,454.3 600.9,466.3" fill="url(#beam1)"/>
<polygon points="569.4,365 572,365 610,446.5 603.8,455" fill="#b32a3a" opacity="0.95"/>
<path d="M571 366L606 450" stroke="#d25866" stroke-width="1.2" opacity="0.6"/>
<ellipse cx="614.8" cy="466.8" rx="18" ry="27.6" transform="rotate(14 614.8 466.8)" fill="url(#rim)"/>
<polygon points="603,450 612,440 626,446 620,470 601,468" fill="url(#rim)"/>
<ellipse cx="619.4" cy="471.2" rx="18" ry="27.6" transform="rotate(14 619.4 471.2)" fill="#3c3434"/>
<polygon points="548.3,336 551.4,332.4 574.6,332.4 584.7,350 583.8,377.6 581.2,382.8 555.8,382.8 546.6,363.5" fill="#3b3a3e"/>
<polygon points="548.3,336 551.4,332.4 574.6,332.4 584.7,350 583,351.4 557,351.4 553,350" fill="#263444"/>
<polygon points="548.3,336 553,350 557,351.4 558,382.8 555.8,382.8 546.6,363.5" fill="#625a5a"/>
<polygon points="558,346 581.6,346 581.6,351.2 558,351.2" fill="#caa994"/>
<circle cx="571.8" cy="367" r="11.2" fill="#1f2a36"/>
<circle cx="573" cy="368.6" r="7.6" fill="#2d2a2c" stroke="#4a4446" stroke-width="1"/>
<path d="M570 366L581 390" stroke="#a8222e" stroke-width="2.2"/>
<text x="350.4" y="261.9" font-size="10.5" fill="#262626">Reference</text>
<text x="350.4" y="274.3" font-size="10.5" fill="#262626">electrode</text>
<text x="300" y="284.6" font-size="10.5" fill="#262626">Working</text>
<text x="300" y="296.4" font-size="10.5" fill="#262626">electrode</text>
<text x="432.7" y="292.6" font-size="10.5" fill="#262626">Counter electrode</text>
<text x="634.9" y="321" font-size="10.5" fill="#262626" text-anchor="middle">Silicon Drift</text>
<text x="635.3" y="333.2" font-size="10.5" fill="#262626" text-anchor="middle">Detector</text>
<text x="585.3" y="510.1" font-size="10.5" fill="#262626">Analyzer crystal</text>
<text x="585.3" y="522.6" font-size="10.5" fill="#262626">Cu Kα:&#160; Si (444)</text>
<g transform="rotate(-11 270 330)"><text x="237.5" y="326.6" font-size="10.4" fill="#262626">Double-crystal</text><text x="238.2" y="340.2" font-size="10.4" fill="#262626">monochromator</text></g>
<path d="M304.6 465.8H353.5M303 479.7H351.3M302.4 497.4H351.3M299.5 556.8H349" stroke="#555" stroke-width="1.3"/>
<path d="M246 491.5 246.1 491.55 246.2 491.6 246.3 491.65 246.4 491.71 246.5 491.76 246.6 491.81 246.7 491.86 246.8 491.91 246.9 491.96 247 492.01 247.1 492.07 247.2 492.12 247.3 492.17 247.4 492.22 247.5 492.27 247.6 492.32 247.7 492.37 247.8 492.43 247.9 492.48 248 492.53 248.1 492.58 248.2 492.63 248.3 492.68 248.4 492.73 248.5 492.79 248.6 492.84 248.7 492.89 248.8 492.94 248.9 492.99 249 493.04 249.1 493.09 249.2 493.15 249.3 493.2 249.4 493.25 249.5 493.3 249.6 493.35 249.7 493.4 249.8 493.45 249.9 493.51 250 493.56 250.1 493.61 250.2 493.66 250.3 493.71 250.4 493.76 250.5 493.81 250.6 493.87 250.7 493.92 250.8 493.97 250.9 494.02 251 494.07 251.1 494.12 251.2 494.17 251.3 494.23 251.4 494.28 251.5 494.33 251.6 494.38 251.7 494.42 251.79 494.45 251.88 494.46 251.97 494.45 252.06 494.43 252.14 494.39 252.22 494.34 252.3 494.28 252.37 494.21 252.45 494.12 252.52 494.03 252.59 493.93 252.66 493.83 252.72 493.72 252.79 493.61 252.86 493.51 252.93 493.4 253 493.3 253.07 493.21 253.14 493.12 253.22 493.05 253.3 492.99 253.38 492.94 253.46 492.91 253.55 492.9 253.64 492.9 253.73 492.93 253.83 492.98 253.94 493.06 254.05 493.15 254.16 493.28 254.28 493.42 254.4 493.6 254.53 493.8 254.67 494.03 254.81 494.28 254.95 494.56 255.1 494.86 255.26 495.19 255.42 495.53 255.58 495.91 255.75 496.3 255.92 496.71 256.1 497.13 256.28 497.57 256.46 498.02 256.64 498.48 256.82 498.95 257 499.42 257.19 499.9 257.37 500.37 257.56 500.84 257.74 501.3 257.92 501.75 258.09 502.18 258.27 502.6 258.44 503 258.6 503.38 258.76 503.73 258.92 504.06 259.07 504.35 259.21 504.61 259.34 504.84 259.47 505.02 259.59 505.17 259.7 505.28 259.8 505.34 259.9 505.36 259.98 505.33 260.06 505.26 260.1 505.04 260.14 504.78 260.17 504.49 260.19 504.16 260.21 503.8 260.22 503.41 260.23 502.99 260.23 502.54 260.23 502.08 260.22 501.59 260.21 501.09 260.19 500.57 260.18 500.04 260.16 499.51 260.14 498.97 260.13 498.43 260.11 497.89 260.09 497.36 260.08 496.84 260.06 496.32 260.05 495.82 260.05 495.34 260.04 494.88 260.05 494.44 260.05 494.03 260.07 493.65 260.09 493.3 260.11 492.98 260.14 492.69 260.18 492.44 260.23 492.23 260.29 492.06 260.35 491.93 260.42 491.85 260.5 491.8 260.59 491.8 260.69 491.84 260.8 491.93 260.91 492.06 261.04 492.23 261.17 492.44 261.31 492.7 261.46 493 261.62 493.33 261.78 493.7 261.95 494.11 262.13 494.55 262.32 495.03 262.51 495.53 262.7 496.06 262.9 496.61 263.11 497.19 263.32 497.78 263.53 498.39 263.74 499.01 263.96 499.65 264.17 500.29 264.39 500.93 264.61 501.57 264.83 502.21 265.05 502.84 265.26 503.47 265.47 504.08 265.68 504.68 265.89 505.25 266.09 505.81 266.28 506.34 266.47 506.85 266.66 507.33 266.84 507.77 267.01 508.18 267.18 508.56 267.33 508.9 267.48 509.2 267.62 509.46 267.76 509.68 267.88 509.86 268 509.99 268.11 510.08 268.21 510.13 268.3 510.13 268.38 510.09 268.45 510.01 268.52 509.88 268.57 509.72 268.62 509.51 268.66 509.27 268.7 508.99 268.72 508.67 268.74 508.32 268.76 507.94 268.76 507.54 268.77 507.1 268.77 506.64 268.76 506.16 268.75 505.67 268.74 505.16 268.72 504.63 268.71 504.1 268.69 503.56 268.67 503.02 268.65 502.48 268.63 501.95 268.62 501.42 268.6 500.9 268.59 500.4 268.59 499.91 268.58 499.44 268.58 498.99 268.59 498.57 268.6 498.18 268.61 497.81 268.64 497.48 268.67 497.18 268.71 496.92 268.75 496.7 268.8 496.51 268.86 496.37 268.93 496.27 269.01 496.21 269.1 496.19 269.19 496.21 269.3 496.28 269.41 496.4 269.53 496.55 269.66 496.75 269.8 496.99 269.94 497.27 270.1 497.59 270.26 497.95 270.43 498.35 270.6 498.77 270.78 499.24 270.97 499.73 271.17 500.25 271.36 500.79 271.57 501.36 271.77 501.95 271.99 502.55 272.2 503.17 272.41 503.8 272.63 504.44 272.85 505.08 273.07 505.72 273.29 506.36 273.5 507 273.72 507.63 273.93 508.25 274.14 508.85 274.35 509.43 274.55 510 274.75 510.54 274.94 511.06 275.13 511.54 275.31 512 275.48 512.43 275.65 512.82 275.81 513.17 275.97 513.48 276.11 513.76 276.25 513.99 276.37 514.19 276.49 514.34 276.61 514.44 276.71 514.51 276.8 514.53 276.89 514.5 276.96 514.43 277.03 514.33 277.09 514.18 277.14 513.99 277.19 513.76 277.22 513.49 277.25 513.19 277.27 512.85 277.29 512.48 277.3 512.08 277.3 511.66 277.3 511.21 277.3 510.73 277.29 510.24 277.28 509.74 277.27 509.22 277.25 508.69 277.23 508.15 277.21 507.61 277.2 507.07 277.18 506.54 277.16 506.01 277.15 505.48 277.13 504.97 277.13 504.48 277.12 504 277.12 503.55 277.12 503.12 277.13 502.71 277.15 502.34 277.17 501.99 277.19 501.68 277.23 501.41 277.27 501.17 277.32 500.97 277.38 500.81 277.44 500.69 277.52 500.61 277.6 500.58 277.69 500.59 277.79 500.64 277.9 500.74 278.02 500.88 278.15 501.06 278.28 501.29 278.42 501.55 278.57 501.86 278.73 502.2 278.9 502.59 279.07 503 279.25 503.45 279.44 503.93 279.63 504.44 279.83 504.98 280.03 505.54 280.23 506.12 280.44 506.72 280.66 507.33 280.87 507.96 281.09 508.59 281.31 509.23 281.52 509.88 281.74 510.52 281.96 511.16 282.18 511.79 282.39 512.41 282.6 513.02 282.81 513.61 283.01 514.18 283.21 514.73 283.41 515.26 283.6 515.76 283.78 516.23 283.96 516.66 284.13 517.06 284.29 517.43 284.45 517.76 284.59 518.05 284.73 518.3 284.87 518.51 284.99 518.68 285.1 518.8 285.21 518.88 285.3 518.91 285.39 518.91 285.47 518.86 285.54 518.76 285.61 518.63 285.66 518.45 285.71 518.24 285.75 517.98 285.78 517.69 285.8 517.37 285.82 517.01 285.83 516.62 285.84 516.21 285.84 515.77 285.84 515.3 285.83 514.82 285.82 514.32 285.81 513.8 285.79 513.28 285.78 512.74 285.76 512.2 285.74 511.66 285.72 511.13 285.7 510.59 285.69 510.07 285.68 509.55 285.67 509.05 285.66 508.57 285.66 508.11 285.66 507.67 285.66 507.25 285.68 506.86 285.69 506.51 285.72 506.18 285.75 505.89 285.79 505.64 285.84 505.43 285.89 505.25 285.96 505.12 286.03 505.03 286.11 504.98 286.19 504.97 286.29 505.01 286.4 505.09 286.51 505.21 286.64 505.38 286.77 505.59 286.91 505.84 287.05 506.13 287.21 506.46 287.37 506.83 287.54 507.23 287.72 507.67 287.91 508.14 288.09 508.64 288.29 509.17 288.49 509.72 288.69 510.29 288.9 510.88 289.11 511.49 289.33 512.11 289.54 512.75 289.76 513.38 289.98 514.03 290.2 514.67 290.42 515.31 290.63 515.94 290.85 516.57 291.06 517.18 291.27 517.78 291.47 518.36 291.68 518.92 291.87 519.46 292.06 519.96 292.25 520.44 292.43 520.89 292.6 521.31 292.77 521.69 292.93 522.03 293.08 522.34 293.22 522.6 293.35 522.83 293.48 523.01 293.6 523.15 293.71 523.24 293.81 523.3 293.9 523.3 293.98 523.27 294.06 523.19 294.12 523.07 294.18 522.91 294.23 522.71 294.27 522.47 294.3 522.19 294.33 521.88 294.35 521.54 294.37 521.16 294.38 520.76 294.38 520.32 294.38 519.87 294.37 519.39 294.36 518.9 294.35 518.39 294.34 517.86 294.32 517.33 294.3 516.8 294.28 516.26 294.27 515.72 294.25 515.18 294.23 514.65 294.22 514.13 294.21 513.63 294.2 513.14 294.19 512.67 294.19 512.22 294.2 511.79 294.21 511.39 294.22 511.03 294.25 510.69 294.28 510.39 294.31 510.12 294.36 509.89 294.41 509.7 294.47 509.55 294.54 509.45 294.61 509.38 294.7 509.36 294.79 509.38 294.89 509.44 295.01 509.55 295.13 509.7 295.25 509.9 295.39 510.13 295.54 510.41 295.69 510.73 295.85 511.08 296.02 511.47 296.19 511.9 296.37 512.35 296.56 512.84 296.75 513.36 296.95 513.9 297.16 514.47 297.36 515.05 297.57 515.66 297.79 516.27 298 516.9 298.22 517.54 298.44 518.18 298.65 518.82 298.87 519.46 299.09 520.1 299.3 520.73 299.52 521.35 299.73 521.95 299.94 522.54 300.14 523.11 300.34 523.65 300.53 524.17 300.72 524.66 300.9 525.12 301.08 525.55 301.24 525.94 301.41 526.3 301.56 526.62 301.71 526.9 301.84 527.14 301.97 527.34 302.09 527.49 302.2 527.6 302.31 527.67 302.4 527.7 302.49 527.68 302.57 527.62 302.64 527.51 302.7 527.37 302.75 527.18 302.79 526.96 302.83 526.69 302.86 526.39 302.88 526.06 302.9 525.7 302.91 525.3 302.92 524.88 302.92 524.43 302.91 523.96 302.9 523.47 302.89 522.97 302.88 522.45 302.86 521.92 302.85 521.39 302.83 520.85 302.81 520.31 302.79 519.77 302.77 519.24 302.76 518.71 302.75 518.2 302.74 517.71 302.73 517.23 302.73 516.77 302.73 516.34 302.74 515.93 302.75 515.55 302.77 515.2 302.8 514.89 302.84 514.61 302.88 514.36 302.93 514.16 302.98 514 303.05 513.87 303.12 513.79 303.2 513.75 303.29 513.76 303.39 513.81 303.5 513.9 303.62 514.03 303.74 514.21 303.88 514.43 304.02 514.69 304.17 514.99 304.33 515.33 304.49 515.71 304.66 516.12 304.84 516.57 305.03 517.05 305.22 517.55 305.42 518.09 305.62 518.64 305.82 519.22 306.03 519.82 306.24 520.43 306.46 521.06 306.67 521.69 306.89 522.33 307.11 522.97 307.33 523.62 307.55 524.25 307.76 524.89 307.98 525.51 308.19 526.12 308.4 526.71 308.6 527.29 308.8 527.84 309 528.37 309.19 528.87 309.37 529.34 309.55 529.79 309.72 530.19 309.88 530.56 310.04 530.9 310.19 531.19 310.33 531.45 310.46 531.66 310.59 531.83 310.7 531.96 310.81 532.04 310.91 532.08 310.99 532.08 311.08 532.03 311.15 531.95 311.21 531.82 311.27 531.64 311.31 531.43 311.35 531.18 311.39 530.9 311.41 530.58 311.43 530.22 311.44 529.84 311.45 529.43 311.45 528.99 311.45 528.53 311.44 528.05 311.43 527.55 311.42 527.03 311.41 526.51 311.39 525.98 311.37 525.44 311.35 524.9 311.33 524.36 311.32 523.83 311.3 523.3 311.29 522.78 311.28 522.28 311.27 521.79 311.27 521.33 311.27 520.89 311.27 520.47 311.29 520.08 311.3 519.72 311.33 519.39 311.36 519.1 311.4 518.84 311.44 518.62 311.5 518.44 311.56 518.3 311.63 518.21 311.77 518.44 311.91 518.71 312.06 519.04 312.23 519.39 312.39 519.79 312.57 520.21 312.75 520.66 312.93 521.12 313.12 521.6 313.3 522.09 313.49 522.58 313.68 523.07 313.86 523.55 314.05 524.02 314.23 524.47 314.41 524.91 314.58 525.32 314.74 525.7 314.9 526.06 315.06 526.38 315.2 526.66 315.34 526.9 315.47 527.11 315.6 527.27 315.71 527.39 315.81 527.47 315.91 527.51 316 527.5" fill="none" stroke="#ffb2b2" stroke-width="5.6" stroke-linecap="round" stroke-linejoin="round"/>
<path d="M246 491.5 246.1 491.55 246.2 491.6 246.3 491.65 246.4 491.71 246.5 491.76 246.6 491.81 246.7 491.86 246.8 491.91 246.9 491.96 247 492.01 247.1 492.07 247.2 492.12 247.3 492.17 247.4 492.22 247.5 492.27 247.6 492.32 247.7 492.37 247.8 492.43 247.9 492.48 248 492.53 248.1 492.58 248.2 492.63 248.3 492.68 248.4 492.73 248.5 492.79 248.6 492.84 248.7 492.89 248.8 492.94 248.9 492.99 249 493.04 249.1 493.09 249.2 493.15 249.3 493.2 249.4 493.25 249.5 493.3 249.6 493.35 249.7 493.4 249.8 493.45 249.9 493.51 250 493.56 250.1 493.61 250.2 493.66 250.3 493.71 250.4 493.76 250.5 493.81 250.6 493.87 250.7 493.92 250.8 493.97 250.9 494.02 251 494.07 251.1 494.12 251.2 494.17 251.3 494.23 251.4 494.28 251.5 494.33 251.6 494.38 251.7 494.42 251.79 494.45 251.88 494.46 251.97 494.45 252.06 494.43 252.14 494.39 252.22 494.34 252.3 494.28 252.37 494.21 252.45 494.12 252.52 494.03 252.59 493.93 252.66 493.83 252.72 493.72 252.79 493.61 252.86 493.51 252.93 493.4 253 493.3 253.07 493.21 253.14 493.12 253.22 493.05 253.3 492.99 253.38 492.94 253.46 492.91 253.55 492.9 253.64 492.9 253.73 492.93 253.83 492.98 253.94 493.06 254.05 493.15 254.16 493.28 254.28 493.42 254.4 493.6 254.53 493.8 254.67 494.03 254.81 494.28 254.95 494.56 255.1 494.86 255.26 495.19 255.42 495.53 255.58 495.91 255.75 496.3 255.92 496.71 256.1 497.13 256.28 497.57 256.46 498.02 256.64 498.48 256.82 498.95 257 499.42 257.19 499.9 257.37 500.37 257.56 500.84 257.74 501.3 257.92 501.75 258.09 502.18 258.27 502.6 258.44 503 258.6 503.38 258.76 503.73 258.92 504.06 259.07 504.35 259.21 504.61 259.34 504.84 259.47 505.02 259.59 505.17 259.7 505.28 259.8 505.34 259.9 505.36 259.98 505.33 260.06 505.26 260.1 505.04 260.14 504.78 260.17 504.49 260.19 504.16 260.21 503.8 260.22 503.41 260.23 502.99 260.23 502.54 260.23 502.08 260.22 501.59 260.21 501.09 260.19 500.57 260.18 500.04 260.16 499.51 260.14 498.97 260.13 498.43 260.11 497.89 260.09 497.36 260.08 496.84 260.06 496.32 260.05 495.82 260.05 495.34 260.04 494.88 260.05 494.44 260.05 494.03 260.07 493.65 260.09 493.3 260.11 492.98 260.14 492.69 260.18 492.44 260.23 492.23 260.29 492.06 260.35 491.93 260.42 491.85 260.5 491.8 260.59 491.8 260.69 491.84 260.8 491.93 260.91 492.06 261.04 492.23 261.17 492.44 261.31 492.7 261.46 493 261.62 493.33 261.78 493.7 261.95 494.11 262.13 494.55 262.32 495.03 262.51 495.53 262.7 496.06 262.9 496.61 263.11 497.19 263.32 497.78 263.53 498.39 263.74 499.01 263.96 499.65 264.17 500.29 264.39 500.93 264.61 501.57 264.83 502.21 265.05 502.84 265.26 503.47 265.47 504.08 265.68 504.68 265.89 505.25 266.09 505.81 266.28 506.34 266.47 506.85 266.66 507.33 266.84 507.77 267.01 508.18 267.18 508.56 267.33 508.9 267.48 509.2 267.62 509.46 267.76 509.68 267.88 509.86 268 509.99 268.11 510.08 268.21 510.13 268.3 510.13 268.38 510.09 268.45 510.01 268.52 509.88 268.57 509.72 268.62 509.51 268.66 509.27 268.7 508.99 268.72 508.67 268.74 508.32 268.76 507.94 268.76 507.54 268.77 507.1 268.77 506.64 268.76 506.16 268.75 505.67 268.74 505.16 268.72 504.63 268.71 504.1 268.69 503.56 268.67 503.02 268.65 502.48 268.63 501.95 268.62 501.42 268.6 500.9 268.59 500.4 268.59 499.91 268.58 499.44 268.58 498.99 268.59 498.57 268.6 498.18 268.61 497.81 268.64 497.48 268.67 497.18 268.71 496.92 268.75 496.7 268.8 496.51 268.86 496.37 268.93 496.27 269.01 496.21 269.1 496.19 269.19 496.21 269.3 496.28 269.41 496.4 269.53 496.55 269.66 496.75 269.8 496.99 269.94 497.27 270.1 497.59 270.26 497.95 270.43 498.35 270.6 498.77 270.78 499.24 270.97 499.73 271.17 500.25 271.36 500.79 271.57 501.36 271.77 501.95 271.99 502.55 272.2 503.17 272.41 503.8 272.63 504.44 272.85 505.08 273.07 505.72 273.29 506.36 273.5 507 273.72 507.63 273.93 508.25 274.14 508.85 274.35 509.43 274.55 510 274.75 510.54 274.94 511.06 275.13 511.54 275.31 512 275.48 512.43 275.65 512.82 275.81 513.17 275.97 513.48 276.11 513.76 276.25 513.99 276.37 514.19 276.49 514.34 276.61 514.44 276.71 514.51 276.8 514.53 276.89 514.5 276.96 514.43 277.03 514.33 277.09 514.18 277.14 513.99 277.19 513.76 277.22 513.49 277.25 513.19 277.27 512.85 277.29 512.48 277.3 512.08 277.3 511.66 277.3 511.21 277.3 510.73 277.29 510.24 277.28 509.74 277.27 509.22 277.25 508.69 277.23 508.15 277.21 507.61 277.2 507.07 277.18 506.54 277.16 506.01 277.15 505.48 277.13 504.97 277.13 504.48 277.12 504 277.12 503.55 277.12 503.12 277.13 502.71 277.15 502.34 277.17 501.99 277.19 501.68 277.23 501.41 277.27 501.17 277.32 500.97 277.38 500.81 277.44 500.69 277.52 500.61 277.6 500.58 277.69 500.59 277.79 500.64 277.9 500.74 278.02 500.88 278.15 501.06 278.28 501.29 278.42 501.55 278.57 501.86 278.73 502.2 278.9 502.59 279.07 503 279.25 503.45 279.44 503.93 279.63 504.44 279.83 504.98 280.03 505.54 280.23 506.12 280.44 506.72 280.66 507.33 280.87 507.96 281.09 508.59 281.31 509.23 281.52 509.88 281.74 510.52 281.96 511.16 282.18 511.79 282.39 512.41 282.6 513.02 282.81 513.61 283.01 514.18 283.21 514.73 283.41 515.26 283.6 515.76 283.78 516.23 283.96 516.66 284.13 517.06 284.29 517.43 284.45 517.76 284.59 518.05 284.73 518.3 284.87 518.51 284.99 518.68 285.1 518.8 285.21 518.88 285.3 518.91 285.39 518.91 285.47 518.86 285.54 518.76 285.61 518.63 285.66 518.45 285.71 518.24 285.75 517.98 285.78 517.69 285.8 517.37 285.82 517.01 285.83 516.62 285.84 516.21 285.84 515.77 285.84 515.3 285.83 514.82 285.82 514.32 285.81 513.8 285.79 513.28 285.78 512.74 285.76 512.2 285.74 511.66 285.72 511.13 285.7 510.59 285.69 510.07 285.68 509.55 285.67 509.05 285.66 508.57 285.66 508.11 285.66 507.67 285.66 507.25 285.68 506.86 285.69 506.51 285.72 506.18 285.75 505.89 285.79 505.64 285.84 505.43 285.89 505.25 285.96 505.12 286.03 505.03 286.11 504.98 286.19 504.97 286.29 505.01 286.4 505.09 286.51 505.21 286.64 505.38 286.77 505.59 286.91 505.84 287.05 506.13 287.21 506.46 287.37 506.83 287.54 507.23 287.72 507.67 287.91 508.14 288.09 508.64 288.29 509.17 288.49 509.72 288.69 510.29 288.9 510.88 289.11 511.49 289.33 512.11 289.54 512.75 289.76 513.38 289.98 514.03 290.2 514.67 290.42 515.31 290.63 515.94 290.85 516.57 291.06 517.18 291.27 517.78 291.47 518.36 291.68 518.92 291.87 519.46 292.06 519.96 292.25 520.44 292.43 520.89 292.6 521.31 292.77 521.69 292.93 522.03 293.08 522.34 293.22 522.6 293.35 522.83 293.48 523.01 293.6 523.15 293.71 523.24 293.81 523.3 293.9 523.3 293.98 523.27 294.06 523.19 294.12 523.07 294.18 522.91 294.23 522.71 294.27 522.47 294.3 522.19 294.33 521.88 294.35 521.54 294.37 521.16 294.38 520.76 294.38 520.32 294.38 519.87 294.37 519.39 294.36 518.9 294.35 518.39 294.34 517.86 294.32 517.33 294.3 516.8 294.28 516.26 294.27 515.72 294.25 515.18 294.23 514.65 294.22 514.13 294.21 513.63 294.2 513.14 294.19 512.67 294.19 512.22 294.2 511.79 294.21 511.39 294.22 511.03 294.25 510.69 294.28 510.39 294.31 510.12 294.36 509.89 294.41 509.7 294.47 509.55 294.54 509.45 294.61 509.38 294.7 509.36 294.79 509.38 294.89 509.44 295.01 509.55 295.13 509.7 295.25 509.9 295.39 510.13 295.54 510.41 295.69 510.73 295.85 511.08 296.02 511.47 296.19 511.9 296.37 512.35 296.56 512.84 296.75 513.36 296.95 513.9 297.16 514.47 297.36 515.05 297.57 515.66 297.79 516.27 298 516.9 298.22 517.54 298.44 518.18 298.65 518.82 298.87 519.46 299.09 520.1 299.3 520.73 299.52 521.35 299.73 521.95 299.94 522.54 300.14 523.11 300.34 523.65 300.53 524.17 300.72 524.66 300.9 525.12 301.08 525.55 301.24 525.94 301.41 526.3 301.56 526.62 301.71 526.9 301.84 527.14 301.97 527.34 302.09 527.49 302.2 527.6 302.31 527.67 302.4 527.7 302.49 527.68 302.57 527.62 302.64 527.51 302.7 527.37 302.75 527.18 302.79 526.96 302.83 526.69 302.86 526.39 302.88 526.06 302.9 525.7 302.91 525.3 302.92 524.88 302.92 524.43 302.91 523.96 302.9 523.47 302.89 522.97 302.88 522.45 302.86 521.92 302.85 521.39 302.83 520.85 302.81 520.31 302.79 519.77 302.77 519.24 302.76 518.71 302.75 518.2 302.74 517.71 302.73 517.23 302.73 516.77 302.73 516.34 302.74 515.93 302.75 515.55 302.77 515.2 302.8 514.89 302.84 514.61 302.88 514.36 302.93 514.16 302.98 514 303.05 513.87 303.12 513.79 303.2 513.75 303.29 513.76 303.39 513.81 303.5 513.9 303.62 514.03 303.74 514.21 303.88 514.43 304.02 514.69 304.17 514.99 304.33 515.33 304.49 515.71 304.66 516.12 304.84 516.57 305.03 517.05 305.22 517.55 305.42 518.09 305.62 518.64 305.82 519.22 306.03 519.82 306.24 520.43 306.46 521.06 306.67 521.69 306.89 522.33 307.11 522.97 307.33 523.62 307.55 524.25 307.76 524.89 307.98 525.51 308.19 526.12 308.4 526.71 308.6 527.29 308.8 527.84 309 528.37 309.19 528.87 309.37 529.34 309.55 529.79 309.72 530.19 309.88 530.56 310.04 530.9 310.19 531.19 310.33 531.45 310.46 531.66 310.59 531.83 310.7 531.96 310.81 532.04 310.91 532.08 310.99 532.08 311.08 532.03 311.15 531.95 311.21 531.82 311.27 531.64 311.31 531.43 311.35 531.18 311.39 530.9 311.41 530.58 311.43 530.22 311.44 529.84 311.45 529.43 311.45 528.99 311.45 528.53 311.44 528.05 311.43 527.55 311.42 527.03 311.41 526.51 311.39 525.98 311.37 525.44 311.35 524.9 311.33 524.36 311.32 523.83 311.3 523.3 311.29 522.78 311.28 522.28 311.27 521.79 311.27 521.33 311.27 520.89 311.27 520.47 311.29 520.08 311.3 519.72 311.33 519.39 311.36 519.1 311.4 518.84 311.44 518.62 311.5 518.44 311.56 518.3 311.63 518.21 311.77 518.44 311.91 518.71 312.06 519.04 312.23 519.39 312.39 519.79 312.57 520.21 312.75 520.66 312.93 521.12 313.12 521.6 313.3 522.09 313.49 522.58 313.68 523.07 313.86 523.55 314.05 524.02 314.23 524.47 314.41 524.91 314.58 525.32 314.74 525.7 314.9 526.06 315.06 526.38 315.2 526.66 315.34 526.9 315.47 527.11 315.6 527.27 315.71 527.39 315.81 527.47 315.91 527.51 316 527.5" fill="none" stroke="#fff" stroke-width="1.6" stroke-linejoin="round"/>
<path d="M318 525 318.08 524.95 318.17 524.89 318.25 524.84 318.33 524.79 318.42 524.73 318.5 524.68 318.58 524.62 318.67 524.57 318.75 524.52 318.83 524.46 318.92 524.41 319 524.36 319.08 524.3 319.17 524.25 319.25 524.2 319.33 524.14 319.42 524.09 319.5 524.03 319.58 523.98 319.67 523.93 319.75 523.87 319.83 523.82 319.92 523.77 320 523.71 320.08 523.66 320.17 523.6 320.25 523.55 320.33 523.5 320.42 523.44 320.5 523.39 320.58 523.34 320.67 523.28 320.75 523.23 320.83 523.18 320.92 523.12 321 523.07 321.08 523.01 321.17 522.96 321.25 522.91 321.33 522.85 321.42 522.8 321.5 522.75 321.58 522.69 321.67 522.64 321.75 522.59 321.83 522.53 321.92 522.48 322 522.42 322.08 522.37 322.17 522.32 322.25 522.26 322.33 522.21 322.42 522.16 322.5 522.1 322.58 522.05 322.67 521.99 322.75 521.94 322.83 521.89 322.92 521.83 323 521.78 323.08 521.72 323.17 521.64 323.25 521.54 323.34 521.42 323.43 521.29 323.52 521.14 323.6 520.97 323.69 520.79 323.78 520.61 323.88 520.41 323.97 520.2 324.06 519.99 324.15 519.78 324.24 519.56 324.33 519.35 324.42 519.14 324.51 518.93 324.6 518.74 324.69 518.55 324.78 518.38 324.87 518.22 324.96 518.08 325.05 517.96 325.13 517.86 325.22 517.78 325.3 517.73 325.38 517.71 325.46 517.71 325.54 517.74 325.62 517.8 325.69 517.88 325.77 518 325.84 518.14 325.92 518.31 325.99 518.51 326.06 518.74 326.12 518.99 326.19 519.27 326.26 519.56 326.32 519.88 326.39 520.21 326.45 520.56 326.51 520.91 326.57 521.28 326.64 521.65 326.7 522.03 326.76 522.4 326.82 522.77 326.88 523.13 326.95 523.48 327.01 523.81 327.08 524.12 327.14 524.41 327.21 524.68 327.28 524.91 327.35 525.11 327.42 525.28 327.5 525.4 327.57 525.49 327.65 525.53 327.74 525.41 327.83 525.25 327.92 525.04 328.01 524.79 328.11 524.5 328.2 524.17 328.3 523.8 328.4 523.4 328.51 522.96 328.61 522.5 328.72 522 328.82 521.48 328.93 520.93 329.04 520.37 329.15 519.79 329.26 519.19 329.37 518.59 329.48 517.98 329.59 517.37 329.7 516.76 329.81 516.15 329.92 515.55 330.03 514.97 330.14 514.4 330.25 513.84 330.36 513.31 330.47 512.81 330.57 512.33 330.67 511.88 330.77 511.46 330.87 511.08 330.97 510.74 331.07 510.43 331.16 510.16 331.25 509.94 331.34 509.76 331.43 509.62 331.52 509.53 331.6 509.48 331.68 509.48 331.76 509.52 331.83 509.61 331.91 509.73 331.98 509.9 332.05 510.11 332.12 510.36 332.19 510.64 332.25 510.96 332.31 511.31 332.38 511.69 332.44 512.1 332.5 512.53 332.55 512.98 332.61 513.45 332.67 513.93 332.72 514.42 332.78 514.92 332.83 515.42 332.89 515.93 332.95 516.43 333 516.92 333.06 517.41 333.12 517.88 333.17 518.33 333.23 518.76 333.29 519.17 333.35 519.55 333.42 519.9 333.48 520.22 333.55 520.51 333.62 520.76 333.69 520.97 333.76 521.14 333.83 521.27 333.91 521.36 333.99 521.41 334.07 521.41 334.15 521.36 334.24 521.27 334.32 521.14 334.41 520.96 334.5 520.75 334.6 520.48 334.69 520.18 334.79 519.84 334.89 519.46 334.99 519.05 335.1 518.6 335.2 518.12 335.31 517.62 335.41 517.09 335.52 516.54 335.63 515.97 335.74 515.38 335.85 514.79 335.96 514.18 336.07 513.57 336.18 512.96 336.29 512.35 336.41 511.75 336.52 511.15 336.63 510.57 336.73 510 336.84 509.46 336.95 508.93 337.06 508.43 337.16 507.96 337.26 507.52 337.36 507.12 337.46 506.75 337.56 506.41 337.65 506.12 337.75 505.87 337.84 505.66 337.93 505.49 338.01 505.37 338.1 505.29 338.18 505.26 338.26 505.27 338.34 505.32 338.42 505.42 338.49 505.56 338.56 505.74 338.63 505.96 338.7 506.22 338.76 506.51 338.83 506.84 338.89 507.2 338.95 507.59 339.01 508 339.07 508.44 339.13 508.9 339.19 509.37 339.24 509.85 339.3 510.35 339.35 510.85 339.41 511.36 339.46 511.86 339.52 512.36 339.58 512.85 339.63 513.33 339.69 513.79 339.75 514.24 339.81 514.66 339.87 515.06 339.93 515.44 339.99 515.78 340.06 516.09 340.13 516.37 340.2 516.61 340.27 516.81 340.34 516.97 340.41 517.08 340.49 517.16 340.57 517.19 340.65 517.18 340.73 517.12 340.82 517.02 340.91 516.87 341 516.68 341.09 516.45 341.18 516.17 341.28 515.86 341.38 515.5 341.48 515.11 341.58 514.69 341.68 514.23 341.79 513.75 341.9 513.24 342 512.7 342.11 512.14 342.22 511.57 342.33 510.98 342.44 510.38 342.55 509.77 342.66 509.16 342.78 508.55 342.89 507.94 343 507.34 343.11 506.75 343.22 506.17 343.33 505.61 343.43 505.07 343.54 504.55 343.65 504.06 343.75 503.6 343.85 503.17 343.95 502.78 344.05 502.42 344.15 502.1 344.24 501.82 344.33 501.58 344.42 501.38 344.51 501.23 344.6 501.12 344.68 501.05 344.76 501.03 344.84 501.05 344.92 501.12 345 501.23 345.07 501.39 345.14 501.58 345.21 501.81 345.28 502.08 345.34 502.39 345.41 502.73 345.47 503.09 345.53 503.49 345.59 503.91 345.65 504.35 345.7 504.82 345.76 505.29 345.82 505.78 345.87 506.28 345.93 506.78 345.98 507.29 346.04 507.79 346.1 508.29 346.15 508.77 346.21 509.25 346.27 509.71 346.32 510.15 346.38 510.57 346.45 510.96 346.51 511.32 346.57 511.66 346.64 511.96 346.71 512.22 346.77 512.45 346.85 512.64 346.92 512.78 346.99 512.89 347.07 512.95 347.15 512.97 347.23 512.94 347.32 512.87 347.4 512.75 347.49 512.59 347.58 512.39 347.68 512.14 347.77 511.86 347.87 511.53 347.97 511.17 348.07 510.76 348.17 510.33 348.27 509.86 348.38 509.37 348.49 508.85 348.59 508.31 348.7 507.74 348.81 507.16 348.92 506.57 349.03 505.97 349.15 505.36 349.26 504.75 349.37 504.14 349.48 503.53 349.59 502.93 349.7 502.35 349.81 501.77 349.92 501.22 350.02 500.69 350.13 500.18 350.23 499.7 350.34 499.24 350.44 498.82 350.54 498.44 350.64 498.09 350.73 497.78 350.83 497.51 350.92 497.29 351.01 497.1 351.1 496.96 351.18 496.87 351.27 496.82 351.35 496.81 351.43 496.85 351.5 496.93 351.58 497.05 351.65 497.22 351.72 497.42 351.79 497.67 351.85 497.95 351.92 498.26 351.98 498.61 352.04 498.99 352.1 499.39 352.16 499.82 352.22 500.27 352.28 500.74 352.34 501.22 352.39 501.71 352.45 502.21 352.5 502.71 352.56 503.22 352.61 503.72 352.67 504.21 352.73 504.7 352.78 505.17 352.84 505.62 352.9 506.06 352.96 506.47 353.02 506.85 353.09 507.21 353.15 507.53 353.22 507.82 353.28 508.07 353.35 508.29 353.43 508.46 353.5 508.6 353.58 508.69 353.65 508.74 353.73 508.74 353.82 508.7 353.9 508.61 353.99 508.48 354.08 508.31 354.17 508.09 354.26 507.84 354.36 507.54 354.46 507.2 354.56 506.82 354.66 506.41 354.76 505.97 354.86 505.49 354.97 504.99 355.08 504.46 355.19 503.91 355.29 503.34 355.4 502.76 355.51 502.16 355.63 501.56 355.74 500.95 355.85 500.34 355.96 499.73 356.07 499.12 356.18 498.53 356.29 497.95 356.4 497.38 356.51 496.83 356.61 496.3 356.72 495.8 356.82 495.33 356.93 494.89 357.03 494.48 357.13 494.11 357.23 493.77 357.32 493.47 357.41 493.22 357.51 493 357.59 492.83 357.68 492.71 357.77 492.62 357.85 492.59 357.93 492.59 358.01 492.64 358.08 492.74 358.16 492.88 358.23 493.05 358.3 493.27 358.37 493.53 358.43 493.82 358.5 494.14 358.56 494.5 358.62 494.89 358.68 495.3 358.74 495.73 358.8 496.19 358.85 496.66 358.91 497.15 358.97 497.64 359.02 498.14 359.08 498.65 359.13 499.15 359.19 499.65 359.25 500.14 359.3 500.62 359.36 501.09 359.42 501.53 359.48 501.96 359.54 502.36 359.6 502.74 359.66 503.09 359.73 503.4 359.79 503.68 359.86 503.92 359.93 504.12 360.01 504.28 360.08 504.41 360.16 504.48 360.24 504.52 360.32 504.51 360.4 504.45 360.49 504.36 360.57 504.21 360.66 504.03 360.76 503.8 360.85 503.53 360.95 503.21 361.04 502.86 361.14 502.48 361.25 502.06 361.35 501.6 361.45 501.12 361.56 500.61 361.67 500.07 361.78 499.52 361.89 498.94 362 498.36 362.11 497.76 362.22 497.15 362.33 496.54 362.44 495.93 362.55 495.32 362.66 494.72 362.77 494.12 362.88 493.55 362.99 492.98 363.1 492.44 363.2 491.92 363.31 491.43 363.41 490.97 363.52 490.54 363.62 490.14 363.72 489.78 363.81 489.45 363.91 489.17 364 488.92 364.09 488.72 364.18 488.57 364.27 488.45 364.35 488.39 364.42 488.51 364.5 488.67 364.57 488.87 364.64 489.1 364.7 489.37 364.77 489.66 364.83 489.98 364.9 490.32 364.96 490.67 365.02 491.03 365.09 491.4 365.15 491.77 365.21 492.15 365.27 492.52 365.33 492.88 365.4 493.23 365.46 493.57 365.53 493.89 365.59 494.19 365.66 494.46 365.73 494.72 365.8 494.94 365.87 495.14 365.94 495.32 366.01 495.46 366.09 495.57 366.16 495.65 366.24 495.7 366.32 495.72 366.4 495.71 366.49 495.68 366.57 495.62 366.65 495.53 366.74 495.42 366.83 495.29 366.92 495.14 367 494.97 367.09 494.79 367.18 494.59 367.28 494.39 367.37 494.18 367.46 493.97 367.55 493.76 367.64 493.55 367.73 493.35 367.82 493.16 367.91 492.97 368 492.8" fill="none" stroke="#fde7a8" stroke-width="4.6" stroke-linecap="round" stroke-linejoin="round" opacity="0.8"/>
<path d="M318 525 318.08 524.95 318.17 524.89 318.25 524.84 318.33 524.79 318.42 524.73 318.5 524.68 318.58 524.62 318.67 524.57 318.75 524.52 318.83 524.46 318.92 524.41 319 524.36 319.08 524.3 319.17 524.25 319.25 524.2 319.33 524.14 319.42 524.09 319.5 524.03 319.58 523.98 319.67 523.93 319.75 523.87 319.83 523.82 319.92 523.77 320 523.71 320.08 523.66 320.17 523.6 320.25 523.55 320.33 523.5 320.42 523.44 320.5 523.39 320.58 523.34 320.67 523.28 320.75 523.23 320.83 523.18 320.92 523.12 321 523.07 321.08 523.01 321.17 522.96 321.25 522.91 321.33 522.85 321.42 522.8 321.5 522.75 321.58 522.69 321.67 522.64 321.75 522.59 321.83 522.53 321.92 522.48 322 522.42 322.08 522.37 322.17 522.32 322.25 522.26 322.33 522.21 322.42 522.16 322.5 522.1 322.58 522.05 322.67 521.99 322.75 521.94 322.83 521.89 322.92 521.83 323 521.78 323.08 521.72 323.17 521.64 323.25 521.54 323.34 521.42 323.43 521.29 323.52 521.14 323.6 520.97 323.69 520.79 323.78 520.61 323.88 520.41 323.97 520.2 324.06 519.99 324.15 519.78 324.24 519.56 324.33 519.35 324.42 519.14 324.51 518.93 324.6 518.74 324.69 518.55 324.78 518.38 324.87 518.22 324.96 518.08 325.05 517.96 325.13 517.86 325.22 517.78 325.3 517.73 325.38 517.71 325.46 517.71 325.54 517.74 325.62 517.8 325.69 517.88 325.77 518 325.84 518.14 325.92 518.31 325.99 518.51 326.06 518.74 326.12 518.99 326.19 519.27 326.26 519.56 326.32 519.88 326.39 520.21 326.45 520.56 326.51 520.91 326.57 521.28 326.64 521.65 326.7 522.03 326.76 522.4 326.82 522.77 326.88 523.13 326.95 523.48 327.01 523.81 327.08 524.12 327.14 524.41 327.21 524.68 327.28 524.91 327.35 525.11 327.42 525.28 327.5 525.4 327.57 525.49 327.65 525.53 327.74 525.41 327.83 525.25 327.92 525.04 328.01 524.79 328.11 524.5 328.2 524.17 328.3 523.8 328.4 523.4 328.51 522.96 328.61 522.5 328.72 522 328.82 521.48 328.93 520.93 329.04 520.37 329.15 519.79 329.26 519.19 329.37 518.59 329.48 517.98 329.59 517.37 329.7 516.76 329.81 516.15 329.92 515.55 330.03 514.97 330.14 514.4 330.25 513.84 330.36 513.31 330.47 512.81 330.57 512.33 330.67 511.88 330.77 511.46 330.87 511.08 330.97 510.74 331.07 510.43 331.16 510.16 331.25 509.94 331.34 509.76 331.43 509.62 331.52 509.53 331.6 509.48 331.68 509.48 331.76 509.52 331.83 509.61 331.91 509.73 331.98 509.9 332.05 510.11 332.12 510.36 332.19 510.64 332.25 510.96 332.31 511.31 332.38 511.69 332.44 512.1 332.5 512.53 332.55 512.98 332.61 513.45 332.67 513.93 332.72 514.42 332.78 514.92 332.83 515.42 332.89 515.93 332.95 516.43 333 516.92 333.06 517.41 333.12 517.88 333.17 518.33 333.23 518.76 333.29 519.17 333.35 519.55 333.42 519.9 333.48 520.22 333.55 520.51 333.62 520.76 333.69 520.97 333.76 521.14 333.83 521.27 333.91 521.36 333.99 521.41 334.07 521.41 334.15 521.36 334.24 521.27 334.32 521.14 334.41 520.96 334.5 520.75 334.6 520.48 334.69 520.18 334.79 519.84 334.89 519.46 334.99 519.05 335.1 518.6 335.2 518.12 335.31 517.62 335.41 517.09 335.52 516.54 335.63 515.97 335.74 515.38 335.85 514.79 335.96 514.18 336.07 513.57 336.18 512.96 336.29 512.35 336.41 511.75 336.52 511.15 336.63 510.57 336.73 510 336.84 509.46 336.95 508.93 337.06 508.43 337.16 507.96 337.26 507.52 337.36 507.12 337.46 506.75 337.56 506.41 337.65 506.12 337.75 505.87 337.84 505.66 337.93 505.49 338.01 505.37 338.1 505.29 338.18 505.26 338.26 505.27 338.34 505.32 338.42 505.42 338.49 505.56 338.56 505.74 338.63 505.96 338.7 506.22 338.76 506.51 338.83 506.84 338.89 507.2 338.95 507.59 339.01 508 339.07 508.44 339.13 508.9 339.19 509.37 339.24 509.85 339.3 510.35 339.35 510.85 339.41 511.36 339.46 511.86 339.52 512.36 339.58 512.85 339.63 513.33 339.69 513.79 339.75 514.24 339.81 514.66 339.87 515.06 339.93 515.44 339.99 515.78 340.06 516.09 340.13 516.37 340.2 516.61 340.27 516.81 340.34 516.97 340.41 517.08 340.49 517.16 340.57 517.19 340.65 517.18 340.73 517.12 340.82 517.02 340.91 516.87 341 516.68 341.09 516.45 341.18 516.17 341.28 515.86 341.38 515.5 341.48 515.11 341.58 514.69 341.68 514.23 341.79 513.75 341.9 513.24 342 512.7 342.11 512.14 342.22 511.57 342.33 510.98 342.44 510.38 342.55 509.77 342.66 509.16 342.78 508.55 342.89 507.94 343 507.34 343.11 506.75 343.22 506.17 343.33 505.61 343.43 505.07 343.54 504.55 343.65 504.06 343.75 503.6 343.85 503.17 343.95 502.78 344.05 502.42 344.15 502.1 344.24 501.82 344.33 501.58 344.42 501.38 344.51 501.23 344.6 501.12 344.68 501.05 344.76 501.03 344.84 501.05 344.92 501.12 345 501.23 345.07 501.39 345.14 501.58 345.21 501.81 345.28 502.08 345.34 502.39 345.41 502.73 345.47 503.09 345.53 503.49 345.59 503.91 345.65 504.35 345.7 504.82 345.76 505.29 345.82 505.78 345.87 506.28 345.93 506.78 345.98 507.29 346.04 507.79 346.1 508.29 346.15 508.77 346.21 509.25 346.27 509.71 346.32 510.15 346.38 510.57 346.45 510.96 346.51 511.32 346.57 511.66 346.64 511.96 346.71 512.22 346.77 512.45 346.85 512.64 346.92 512.78 346.99 512.89 347.07 512.95 347.15 512.97 347.23 512.94 347.32 512.87 347.4 512.75 347.49 512.59 347.58 512.39 347.68 512.14 347.77 511.86 347.87 511.53 347.97 511.17 348.07 510.76 348.17 510.33 348.27 509.86 348.38 509.37 348.49 508.85 348.59 508.31 348.7 507.74 348.81 507.16 348.92 506.57 349.03 505.97 349.15 505.36 349.26 504.75 349.37 504.14 349.48 503.53 349.59 502.93 349.7 502.35 349.81 501.77 349.92 501.22 350.02 500.69 350.13 500.18 350.23 499.7 350.34 499.24 350.44 498.82 350.54 498.44 350.64 498.09 350.73 497.78 350.83 497.51 350.92 497.29 351.01 497.1 351.1 496.96 351.18 496.87 351.27 496.82 351.35 496.81 351.43 496.85 351.5 496.93 351.58 497.05 351.65 497.22 351.72 497.42 351.79 497.67 351.85 497.95 351.92 498.26 351.98 498.61 352.04 498.99 352.1 499.39 352.16 499.82 352.22 500.27 352.28 500.74 352.34 501.22 352.39 501.71 352.45 502.21 352.5 502.71 352.56 503.22 352.61 503.72 352.67 504.21 352.73 504.7 352.78 505.17 352.84 505.62 352.9 506.06 352.96 506.47 353.02 506.85 353.09 507.21 353.15 507.53 353.22 507.82 353.28 508.07 353.35 508.29 353.43 508.46 353.5 508.6 353.58 508.69 353.65 508.74 353.73 508.74 353.82 508.7 353.9 508.61 353.99 508.48 354.08 508.31 354.17 508.09 354.26 507.84 354.36 507.54 354.46 507.2 354.56 506.82 354.66 506.41 354.76 505.97 354.86 505.49 354.97 504.99 355.08 504.46 355.19 503.91 355.29 503.34 355.4 502.76 355.51 502.16 355.63 501.56 355.74 500.95 355.85 500.34 355.96 499.73 356.07 499.12 356.18 498.53 356.29 497.95 356.4 497.38 356.51 496.83 356.61 496.3 356.72 495.8 356.82 495.33 356.93 494.89 357.03 494.48 357.13 494.11 357.23 493.77 357.32 493.47 357.41 493.22 357.51 493 357.59 492.83 357.68 492.71 357.77 492.62 357.85 492.59 357.93 492.59 358.01 492.64 358.08 492.74 358.16 492.88 358.23 493.05 358.3 493.27 358.37 493.53 358.43 493.82 358.5 494.14 358.56 494.5 358.62 494.89 358.68 495.3 358.74 495.73 358.8 496.19 358.85 496.66 358.91 497.15 358.97 497.64 359.02 498.14 359.08 498.65 359.13 499.15 359.19 499.65 359.25 500.14 359.3 500.62 359.36 501.09 359.42 501.53 359.48 501.96 359.54 502.36 359.6 502.74 359.66 503.09 359.73 503.4 359.79 503.68 359.86 503.92 359.93 504.12 360.01 504.28 360.08 504.41 360.16 504.48 360.24 504.52 360.32 504.51 360.4 504.45 360.49 504.36 360.57 504.21 360.66 504.03 360.76 503.8 360.85 503.53 360.95 503.21 361.04 502.86 361.14 502.48 361.25 502.06 361.35 501.6 361.45 501.12 361.56 500.61 361.67 500.07 361.78 499.52 361.89 498.94 362 498.36 362.11 497.76 362.22 497.15 362.33 496.54 362.44 495.93 362.55 495.32 362.66 494.72 362.77 494.12 362.88 493.55 362.99 492.98 363.1 492.44 363.2 491.92 363.31 491.43 363.41 490.97 363.52 490.54 363.62 490.14 363.72 489.78 363.81 489.45 363.91 489.17 364 488.92 364.09 488.72 364.18 488.57 364.27 488.45 364.35 488.39 364.42 488.51 364.5 488.67 364.57 488.87 364.64 489.1 364.7 489.37 364.77 489.66 364.83 489.98 364.9 490.32 364.96 490.67 365.02 491.03 365.09 491.4 365.15 491.77 365.21 492.15 365.27 492.52 365.33 492.88 365.4 493.23 365.46 493.57 365.53 493.89 365.59 494.19 365.66 494.46 365.73 494.72 365.8 494.94 365.87 495.14 365.94 495.32 366.01 495.46 366.09 495.57 366.16 495.65 366.24 495.7 366.32 495.72 366.4 495.71 366.49 495.68 366.57 495.62 366.65 495.53 366.74 495.42 366.83 495.29 366.92 495.14 367 494.97 367.09 494.79 367.18 494.59 367.28 494.39 367.37 494.18 367.46 493.97 367.55 493.76 367.64 493.55 367.73 493.35 367.82 493.16 367.91 492.97 368 492.8" fill="none" stroke="#fff" stroke-width="0.8" opacity="0.6"/>
<path d="M326.5 495.5 326.58 495.45 326.66 495.4 326.73 495.35 326.81 495.3 326.89 495.26 326.97 495.21 327.04 495.16 327.12 495.11 327.2 495.06 327.28 495.01 327.36 494.96 327.43 494.91 327.51 494.87 327.59 494.82 327.67 494.77 327.75 494.72 327.82 494.67 327.9 494.62 327.98 494.57 328.06 494.52 328.13 494.47 328.21 494.43 328.29 494.38 328.37 494.33 328.45 494.28 328.52 494.23 328.6 494.18 328.68 494.13 328.76 494.08 328.83 494.04 328.91 493.99 328.99 493.94 329.07 493.89 329.15 493.84 329.22 493.79 329.3 493.74 329.38 493.69 329.46 493.64 329.54 493.6 329.61 493.55 329.69 493.5 329.77 493.45 329.85 493.4 329.92 493.35 330 493.3 330.08 493.25 330.16 493.2 330.24 493.16 330.31 493.11 330.39 493.06 330.47 493.01 330.55 492.96 330.63 492.91 330.7 492.86 330.78 492.81 330.86 492.77 330.94 492.72 331.01 492.67 331.09 492.62 331.17 492.57 331.25 492.51 331.33 492.44 331.41 492.35 331.49 492.24 331.57 492.12 331.65 491.98 331.74 491.82 331.82 491.66 331.9 491.48 331.99 491.3 332.07 491.1 332.16 490.9 332.24 490.69 332.33 490.48 332.42 490.27 332.5 490.06 332.59 489.85 332.67 489.65 332.76 489.46 332.84 489.27 332.93 489.1 333.01 488.94 333.09 488.79 333.17 488.66 333.26 488.55 333.34 488.46 333.41 488.39 333.49 488.34 333.57 488.32 333.64 488.32 333.72 488.35 333.79 488.4 333.86 488.48 333.93 488.59 334 488.73 334.07 488.89 334.13 489.07 334.2 489.28 334.26 489.52 334.33 489.78 334.39 490.06 334.45 490.36 334.51 490.68 334.57 491.01 334.62 491.36 334.68 491.72 334.74 492.09 334.79 492.46 334.85 492.84 334.91 493.22 334.96 493.6 335.02 493.97 335.08 494.33 335.14 494.68 335.19 495.02 335.25 495.34 335.31 495.64 335.38 495.91 335.44 496.16 335.5 496.38 335.58 496.45 335.65 496.48 335.72 496.48 335.8 496.43 335.88 496.35 335.96 496.23 336.05 496.08 336.13 495.88 336.22 495.65 336.31 495.39 336.4 495.09 336.49 494.76 336.58 494.39 336.68 494 336.77 493.58 336.87 493.13 336.97 492.66 337.07 492.17 337.17 491.66 337.27 491.14 337.38 490.6 337.48 490.05 337.58 489.49 337.69 488.93 337.79 488.36 337.89 487.8 338 487.23 338.1 486.68 338.2 486.13 338.3 485.59 338.41 485.07 338.51 484.57 338.61 484.08 338.7 483.61 338.8 483.17 338.9 482.76 338.99 482.37 339.09 482.02 339.18 481.69 339.27 481.4 339.36 481.14 339.44 480.92 339.53 480.73 339.61 480.59 339.69 480.47 339.77 480.4 339.85 480.37 339.92 480.37 340 480.42 340.07 480.49 340.14 480.61 340.2 480.76 340.27 480.95 340.33 481.17 340.4 481.42 340.46 481.7 340.52 482.02 340.58 482.35 340.63 482.71 340.69 483.1 340.75 483.5 340.8 483.92 340.85 484.36 340.91 484.81 340.96 485.26 341.01 485.73 341.06 486.2 341.12 486.66 341.17 487.13 341.22 487.59 341.27 488.05 341.33 488.49 341.38 488.92 341.43 489.34 341.49 489.73 341.55 490.11 341.6 490.47 341.66 490.79 341.72 491.1 341.78 491.37 341.85 491.61 341.91 491.82 341.98 492 342.05 492.14 342.12 492.24 342.19 492.31 342.26 492.34 342.34 492.33 342.42 492.28 342.5 492.2 342.58 492.07 342.66 491.91 342.75 491.72 342.83 491.48 342.92 491.21 343.01 490.91 343.11 490.57 343.2 490.21 343.3 489.81 343.39 489.39 343.49 488.94 343.59 488.47 343.69 487.97 343.79 487.46 343.89 486.93 343.99 486.39 344.1 485.84 344.2 485.28 344.3 484.72 344.41 484.15 344.51 483.59 344.61 483.03 344.72 482.47 344.82 481.92 344.92 481.39 345.02 480.87 345.12 480.37 345.22 479.88 345.32 479.42 345.42 478.98 345.52 478.57 345.61 478.19 345.7 477.83 345.8 477.51 345.88 477.22 345.97 476.97 346.06 476.75 346.14 476.57 346.23 476.43 346.31 476.32 346.39 476.25 346.46 476.22 346.54 476.23 346.61 476.28 346.68 476.36 346.75 476.48 346.82 476.64 346.88 476.83 346.95 477.05 347.01 477.31 347.07 477.59 347.13 477.91 347.19 478.25 347.25 478.61 347.3 479 347.36 479.4 347.41 479.83 347.47 480.26 347.52 480.71 347.57 481.17 347.62 481.63 347.68 482.1 347.73 482.57 347.78 483.04 347.83 483.5 347.89 483.95 347.94 484.39 347.99 484.82 348.05 485.24 348.1 485.63 348.16 486.01 348.22 486.36 348.28 486.68 348.34 486.98 348.4 487.25 348.46 487.49 348.53 487.7 348.59 487.87 348.66 488 348.73 488.1 348.81 488.17 348.88 488.19 348.96 488.18 349.03 488.13 349.11 488.04 349.2 487.91 349.28 487.75 349.36 487.55 349.45 487.31 349.54 487.03 349.63 486.73 349.72 486.39 349.82 486.02 349.91 485.62 350.01 485.19 350.11 484.74 350.21 484.27 350.31 483.77 350.41 483.26 350.51 482.73 350.61 482.19 350.72 481.64 350.82 481.08 350.92 480.51 351.03 479.95 351.13 479.38 351.23 478.82 351.34 478.26 351.44 477.72 351.54 477.19 351.64 476.67 351.74 476.17 351.84 475.68 351.94 475.22 352.04 474.79 352.13 474.38 352.23 474 352.32 473.65 352.41 473.33 352.5 473.05 352.59 472.8 352.68 472.58 352.76 472.41 352.84 472.27 352.92 472.16 353 472.1 353.08 472.08 353.15 472.09 353.23 472.14 353.3 472.23 353.37 472.35 353.43 472.51 353.5 472.7 353.56 472.93 353.63 473.19 353.69 473.48 353.75 473.8 353.8 474.14 353.86 474.51 353.92 474.9 353.97 475.3 354.03 475.73 354.08 476.17 354.13 476.62 354.19 477.08 354.24 477.54 354.29 478.01 354.34 478.48 354.39 478.94 354.45 479.4 354.5 479.86 354.55 480.3 354.61 480.72 354.66 481.14 354.72 481.53 354.77 481.9 354.83 482.25 354.89 482.57 354.95 482.87 355.01 483.13 355.08 483.37 355.14 483.57 355.21 483.74 355.28 483.87 355.35 483.97 355.42 484.03 355.5 484.05 355.57 484.03 355.65 483.97 355.73 483.88 355.81 483.75 355.9 483.58 355.98 483.38 356.07 483.13 356.16 482.86 356.25 482.55 356.34 482.2 356.44 481.83 356.53 481.43 356.63 481 356.73 480.54 356.83 480.07 356.93 479.57 357.03 479.06 357.13 478.52 357.23 477.98 357.33 477.43 357.44 476.87 357.54 476.3 357.64 475.74 357.75 475.17 357.85 474.61 357.95 474.06 358.06 473.51 358.16 472.98 358.26 472.46 358.36 471.97 358.46 471.49 358.56 471.03 358.66 470.6 358.75 470.19 358.85 469.81 358.94 469.47 359.03 469.15 359.12 468.87 359.21 468.63 359.29 468.42 359.38 468.24 359.46 468.11 359.54 468.01 359.62 467.95 359.69 467.93 359.77 467.95 359.84 468 359.91 468.09 359.98 468.22 360.05 468.38 360.11 468.58 360.18 468.81 360.24 469.08 360.3 469.37 360.36 469.69 360.42 470.03 360.47 470.4 360.53 470.79 360.59 471.2 360.64 471.63 360.69 472.07 360.75 472.52 360.8 472.98 360.85 473.45 360.9 473.91 360.95 474.38 361.01 474.85 361.06 475.31 361.11 475.76 361.17 476.2 361.22 476.63 361.27 477.04 361.33 477.43 361.39 477.8 361.44 478.14 361.5 478.46 361.57 478.75 361.63 479.02 361.69 479.25 361.76 479.45 361.82 479.61 361.89 479.74 361.96 479.83 362.04 479.88 362.11 479.9 362.19 479.88 362.27 479.82 362.35 479.72 362.43 479.59 362.51 479.41 362.6 479.21 362.69 478.96 362.78 478.68 362.87 478.36 362.96 478.02 363.05 477.64 363.15 477.24 363.25 476.8 363.34 476.35 363.44 475.87 363.54 475.37 363.65 474.85 363.75 474.32 363.85 473.78 363.95 473.22 364.06 472.66 364.16 472.1 364.26 471.53 364.37 470.97 364.47 470.4 364.57 469.85 364.68 469.31 364.78 468.78 364.88 468.26 364.98 467.77 365.08 467.29 365.18 466.83 365.27 466.41 365.37 466 365.46 465.63 365.56 465.29 365.65 464.98 365.74 464.7 365.82 464.46 365.91 464.25 365.99 464.08 366.07 463.95 366.15 463.86 366.23 463.8 366.31 463.78 366.38 463.81 366.46 463.86 366.53 463.96 366.6 464.09 366.66 464.26 366.73 464.46 366.79 464.7 366.85 464.96 366.91 465.26 366.97 465.58 367.03 465.93 367.09 466.3 367.14 466.69 367.2 467.1 367.25 467.53 367.31 467.97 367.36 468.43 367.41 468.89 367.46 469.35 367.52 469.82 367.57 470.29 367.62 470.75 367.67 471.21 367.72 471.66 367.78 472.1 367.83 472.53 367.89 472.93 367.94 473.32 368 473.69 368.06 474.03 368.12 474.35 368.18 474.64 368.24 474.9 368.31 475.13 368.37 475.32 368.44 475.48 368.51 475.6 368.58 475.69 368.65 475.74 368.73 475.76 368.8 475.73 368.88 475.67 368.96 475.56 369.04 475.43 369.13 475.25 369.22 474.9 369.32 474.52 369.41 474.12 369.51 473.7 369.61 473.26 369.7 472.8 369.8 472.34 369.9 471.87 370 471.39 370.1 470.92 370.2 470.44 370.3 469.98 370.4 469.52 370.49 469.07 370.59 468.64 370.69 468.22 370.78 467.83 370.88 467.45 370.97 467.1 371.06 466.77 371.15 466.47 371.24 466.19 371.33 465.94 371.41 465.72 371.5 465.52 371.58 465.36 371.67 465.22 371.75 465.11 371.83 465.02 371.9 464.97 371.98 464.93 372.06 464.92 372.13 464.93 372.21 464.96 372.28 465.01 372.35 465.07 372.42 465.15 372.49 465.23 372.57 465.33 372.64 465.43 372.71 465.54 372.78 465.65 372.85 465.75 372.92 465.86 372.99 465.96 373.06 466.05 373.13 466.13 373.2 466.2" fill="none" stroke="#fde7a8" stroke-width="4.6" stroke-linecap="round" stroke-linejoin="round" opacity="0.8"/>
<path d="M326.5 495.5 326.58 495.45 326.66 495.4 326.73 495.35 326.81 495.3 326.89 495.26 326.97 495.21 327.04 495.16 327.12 495.11 327.2 495.06 327.28 495.01 327.36 494.96 327.43 494.91 327.51 494.87 327.59 494.82 327.67 494.77 327.75 494.72 327.82 494.67 327.9 494.62 327.98 494.57 328.06 494.52 328.13 494.47 328.21 494.43 328.29 494.38 328.37 494.33 328.45 494.28 328.52 494.23 328.6 494.18 328.68 494.13 328.76 494.08 328.83 494.04 328.91 493.99 328.99 493.94 329.07 493.89 329.15 493.84 329.22 493.79 329.3 493.74 329.38 493.69 329.46 493.64 329.54 493.6 329.61 493.55 329.69 493.5 329.77 493.45 329.85 493.4 329.92 493.35 330 493.3 330.08 493.25 330.16 493.2 330.24 493.16 330.31 493.11 330.39 493.06 330.47 493.01 330.55 492.96 330.63 492.91 330.7 492.86 330.78 492.81 330.86 492.77 330.94 492.72 331.01 492.67 331.09 492.62 331.17 492.57 331.25 492.51 331.33 492.44 331.41 492.35 331.49 492.24 331.57 492.12 331.65 491.98 331.74 491.82 331.82 491.66 331.9 491.48 331.99 491.3 332.07 491.1 332.16 490.9 332.24 490.69 332.33 490.48 332.42 490.27 332.5 490.06 332.59 489.85 332.67 489.65 332.76 489.46 332.84 489.27 332.93 489.1 333.01 488.94 333.09 488.79 333.17 488.66 333.26 488.55 333.34 488.46 333.41 488.39 333.49 488.34 333.57 488.32 333.64 488.32 333.72 488.35 333.79 488.4 333.86 488.48 333.93 488.59 334 488.73 334.07 488.89 334.13 489.07 334.2 489.28 334.26 489.52 334.33 489.78 334.39 490.06 334.45 490.36 334.51 490.68 334.57 491.01 334.62 491.36 334.68 491.72 334.74 492.09 334.79 492.46 334.85 492.84 334.91 493.22 334.96 493.6 335.02 493.97 335.08 494.33 335.14 494.68 335.19 495.02 335.25 495.34 335.31 495.64 335.38 495.91 335.44 496.16 335.5 496.38 335.58 496.45 335.65 496.48 335.72 496.48 335.8 496.43 335.88 496.35 335.96 496.23 336.05 496.08 336.13 495.88 336.22 495.65 336.31 495.39 336.4 495.09 336.49 494.76 336.58 494.39 336.68 494 336.77 493.58 336.87 493.13 336.97 492.66 337.07 492.17 337.17 491.66 337.27 491.14 337.38 490.6 337.48 490.05 337.58 489.49 337.69 488.93 337.79 488.36 337.89 487.8 338 487.23 338.1 486.68 338.2 486.13 338.3 485.59 338.41 485.07 338.51 484.57 338.61 484.08 338.7 483.61 338.8 483.17 338.9 482.76 338.99 482.37 339.09 482.02 339.18 481.69 339.27 481.4 339.36 481.14 339.44 480.92 339.53 480.73 339.61 480.59 339.69 480.47 339.77 480.4 339.85 480.37 339.92 480.37 340 480.42 340.07 480.49 340.14 480.61 340.2 480.76 340.27 480.95 340.33 481.17 340.4 481.42 340.46 481.7 340.52 482.02 340.58 482.35 340.63 482.71 340.69 483.1 340.75 483.5 340.8 483.92 340.85 484.36 340.91 484.81 340.96 485.26 341.01 485.73 341.06 486.2 341.12 486.66 341.17 487.13 341.22 487.59 341.27 488.05 341.33 488.49 341.38 488.92 341.43 489.34 341.49 489.73 341.55 490.11 341.6 490.47 341.66 490.79 341.72 491.1 341.78 491.37 341.85 491.61 341.91 491.82 341.98 492 342.05 492.14 342.12 492.24 342.19 492.31 342.26 492.34 342.34 492.33 342.42 492.28 342.5 492.2 342.58 492.07 342.66 491.91 342.75 491.72 342.83 491.48 342.92 491.21 343.01 490.91 343.11 490.57 343.2 490.21 343.3 489.81 343.39 489.39 343.49 488.94 343.59 488.47 343.69 487.97 343.79 487.46 343.89 486.93 343.99 486.39 344.1 485.84 344.2 485.28 344.3 484.72 344.41 484.15 344.51 483.59 344.61 483.03 344.72 482.47 344.82 481.92 344.92 481.39 345.02 480.87 345.12 480.37 345.22 479.88 345.32 479.42 345.42 478.98 345.52 478.57 345.61 478.19 345.7 477.83 345.8 477.51 345.88 477.22 345.97 476.97 346.06 476.75 346.14 476.57 346.23 476.43 346.31 476.32 346.39 476.25 346.46 476.22 346.54 476.23 346.61 476.28 346.68 476.36 346.75 476.48 346.82 476.64 346.88 476.83 346.95 477.05 347.01 477.31 347.07 477.59 347.13 477.91 347.19 478.25 347.25 478.61 347.3 479 347.36 479.4 347.41 479.83 347.47 480.26 347.52 480.71 347.57 481.17 347.62 481.63 347.68 482.1 347.73 482.57 347.78 483.04 347.83 483.5 347.89 483.95 347.94 484.39 347.99 484.82 348.05 485.24 348.1 485.63 348.16 486.01 348.22 486.36 348.28 486.68 348.34 486.98 348.4 487.25 348.46 487.49 348.53 487.7 348.59 487.87 348.66 488 348.73 488.1 348.81 488.17 348.88 488.19 348.96 488.18 349.03 488.13 349.11 488.04 349.2 487.91 349.28 487.75 349.36 487.55 349.45 487.31 349.54 487.03 349.63 486.73 349.72 486.39 349.82 486.02 349.91 485.62 350.01 485.19 350.11 484.74 350.21 484.27 350.31 483.77 350.41 483.26 350.51 482.73 350.61 482.19 350.72 481.64 350.82 481.08 350.92 480.51 351.03 479.95 351.13 479.38 351.23 478.82 351.34 478.26 351.44 477.72 351.54 477.19 351.64 476.67 351.74 476.17 351.84 475.68 351.94 475.22 352.04 474.79 352.13 474.38 352.23 474 352.32 473.65 352.41 473.33 352.5 473.05 352.59 472.8 352.68 472.58 352.76 472.41 352.84 472.27 352.92 472.16 353 472.1 353.08 472.08 353.15 472.09 353.23 472.14 353.3 472.23 353.37 472.35 353.43 472.51 353.5 472.7 353.56 472.93 353.63 473.19 353.69 473.48 353.75 473.8 353.8 474.14 353.86 474.51 353.92 474.9 353.97 475.3 354.03 475.73 354.08 476.17 354.13 476.62 354.19 477.08 354.24 477.54 354.29 478.01 354.34 478.48 354.39 478.94 354.45 479.4 354.5 479.86 354.55 480.3 354.61 480.72 354.66 481.14 354.72 481.53 354.77 481.9 354.83 482.25 354.89 482.57 354.95 482.87 355.01 483.13 355.08 483.37 355.14 483.57 355.21 483.74 355.28 483.87 355.35 483.97 355.42 484.03 355.5 484.05 355.57 484.03 355.65 483.97 355.73 483.88 355.81 483.75 355.9 483.58 355.98 483.38 356.07 483.13 356.16 482.86 356.25 482.55 356.34 482.2 356.44 481.83 356.53 481.43 356.63 481 356.73 480.54 356.83 480.07 356.93 479.57 357.03 479.06 357.13 478.52 357.23 477.98 357.33 477.43 357.44 476.87 357.54 476.3 357.64 475.74 357.75 475.17 357.85 474.61 357.95 474.06 358.06 473.51 358.16 472.98 358.26 472.46 358.36 471.97 358.46 471.49 358.56 471.03 358.66 470.6 358.75 470.19 358.85 469.81 358.94 469.47 359.03 469.15 359.12 468.87 359.21 468.63 359.29 468.42 359.38 468.24 359.46 468.11 359.54 468.01 359.62 467.95 359.69 467.93 359.77 467.95 359.84 468 359.91 468.09 359.98 468.22 360.05 468.38 360.11 468.58 360.18 468.81 360.24 469.08 360.3 469.37 360.36 469.69 360.42 470.03 360.47 470.4 360.53 470.79 360.59 471.2 360.64 471.63 360.69 472.07 360.75 472.52 360.8 472.98 360.85 473.45 360.9 473.91 360.95 474.38 361.01 474.85 361.06 475.31 361.11 475.76 361.17 476.2 361.22 476.63 361.27 477.04 361.33 477.43 361.39 477.8 361.44 478.14 361.5 478.46 361.57 478.75 361.63 479.02 361.69 479.25 361.76 479.45 361.82 479.61 361.89 479.74 361.96 479.83 362.04 479.88 362.11 479.9 362.19 479.88 362.27 479.82 362.35 479.72 362.43 479.59 362.51 479.41 362.6 479.21 362.69 478.96 362.78 478.68 362.87 478.36 362.96 478.02 363.05 477.64 363.15 477.24 363.25 476.8 363.34 476.35 363.44 475.87 363.54 475.37 363.65 474.85 363.75 474.32 363.85 473.78 363.95 473.22 364.06 472.66 364.16 472.1 364.26 471.53 364.37 470.97 364.47 470.4 364.57 469.85 364.68 469.31 364.78 468.78 364.88 468.26 364.98 467.77 365.08 467.29 365.18 466.83 365.27 466.41 365.37 466 365.46 465.63 365.56 465.29 365.65 464.98 365.74 464.7 365.82 464.46 365.91 464.25 365.99 464.08 366.07 463.95 366.15 463.86 366.23 463.8 366.31 463.78 366.38 463.81 366.46 463.86 366.53 463.96 366.6 464.09 366.66 464.26 366.73 464.46 366.79 464.7 366.85 464.96 366.91 465.26 366.97 465.58 367.03 465.93 367.09 466.3 367.14 466.69 367.2 467.1 367.25 467.53 367.31 467.97 367.36 468.43 367.41 468.89 367.46 469.35 367.52 469.82 367.57 470.29 367.62 470.75 367.67 471.21 367.72 471.66 367.78 472.1 367.83 472.53 367.89 472.93 367.94 473.32 368 473.69 368.06 474.03 368.12 474.35 368.18 474.64 368.24 474.9 368.31 475.13 368.37 475.32 368.44 475.48 368.51 475.6 368.58 475.69 368.65 475.74 368.73 475.76 368.8 475.73 368.88 475.67 368.96 475.56 369.04 475.43 369.13 475.25 369.22 474.9 369.32 474.52 369.41 474.12 369.51 473.7 369.61 473.26 369.7 472.8 369.8 472.34 369.9 471.87 370 471.39 370.1 470.92 370.2 470.44 370.3 469.98 370.4 469.52 370.49 469.07 370.59 468.64 370.69 468.22 370.78 467.83 370.88 467.45 370.97 467.1 371.06 466.77 371.15 466.47 371.24 466.19 371.33 465.94 371.41 465.72 371.5 465.52 371.58 465.36 371.67 465.22 371.75 465.11 371.83 465.02 371.9 464.97 371.98 464.93 372.06 464.92 372.13 464.93 372.21 464.96 372.28 465.01 372.35 465.07 372.42 465.15 372.49 465.23 372.57 465.33 372.64 465.43 372.71 465.54 372.78 465.65 372.85 465.75 372.92 465.86 372.99 465.96 373.06 466.05 373.13 466.13 373.2 466.2" fill="none" stroke="#fff" stroke-width="0.8" opacity="0.6"/>
<path d="M333.4 479.7V555M345.2 465.8V555" stroke="#f7c21b" stroke-width="1.1"/>
<path d="M331.9 552.69L333.4 556.4L334.9 552.69" stroke="#f7c21b" stroke-width="1.1" fill="none"/>
<path d="M343.7 552.69L345.2 556.4L346.7 552.69" stroke="#f7c21b" stroke-width="1.1" fill="none"/>
<path d="M317 551.5L283.8 444" stroke="#ee1c24" stroke-width="1.1"/><path d="M286.67 447.06L283.8 444L283.15 448.15" stroke="#ee1c24" stroke-width="1.1" fill="none"/>
<ellipse cx="317.4" cy="556.8" rx="5" ry="5.6" fill="#fff" stroke="#2a86c6" stroke-width="1.1"/>
<g font-size="10.5" fill="#222"><text x="280" y="468.4">2p<tspan font-size="7.5" dy="2">3/2</tspan></text><text x="281" y="482.4">2p<tspan font-size="7.5" dy="2">1/2</tspan></text><text x="286" y="500.6">2s</text><text x="284" y="560.6">1s</text></g>
<text transform="translate(222.6 486.6) rotate(-7)" font-size="11" font-weight="bold" fill="#c8141e">X-ray</text>
<text x="320.6" y="595.6" font-size="12" font-weight="bold" fill="#111">e</text>
<defs><clipPath id="cle"><rect x="358.4" y="597.4" width="94" height="328.6"/></clipPath><clipPath id="cre"><rect x="474" y="597.4" width="93.7" height="328.6"/></clipPath></defs>
<g clip-path="url(#cle)" fill="none" stroke-width="2.4" stroke-linejoin="round">
<path d="M358.4 655.97 359.23 655.96 360.38 656.1 361.74 655.65 363.2 655.53 364.66 655.43 366 654.98 367.25 655.03 368.51 654.91 369.76 654.82 371 654.12 372.22 654.06 373.4 653.71 374.56 654.04 375.69 653.8 376.81 653.19 377.9 653.69 378.96 653.51 380 653.11 381.01 652.9 382 652.39 382.96 652.1 383.9 652.25 384.81 651.68 385.7 651.48 386.56 651.18 387.38 650.67 388.18 650.57 388.96 650.12 389.73 649.93 390.5 649.21 391.27 648.76 392.04 648.09 392.79 647.59 393.53 646.83 394.23 646.07 394.9 645.95 395.52 645.33 396.1 644.59 396.65 643.86 397.18 642.94 397.69 642.25 398.2 641.65 398.7 640.87 399.18 640.72 399.65 639.83 400.11 639.51 400.56 638.55 401 638.32 401.44 637.6 401.87 636.36 402.29 635.86 402.71 635.71 403.11 634.78 403.5 634.54 403.88 633.55 404.25 632.75 404.61 632.58 404.95 632.15 405.28 631.3 405.6 630.71 405.9 630.46 406.18 630.52 406.44 630.02 406.7 629.25 406.95 629.06 407.2 628.72 407.43 628.5 407.64 628.88 407.85 628.35 408.07 628.55 408.31 628.41 408.6 628.18 408.94 628.52 409.33 628.09 409.75 628.44 410.18 628.09 410.6 628.32 411 628.2 411.38 628.25 411.74 628.73 412.1 628.61 412.46 628.29 412.82 628.79 413.2 628.5 413.59 628.9 413.99 629.57 414.4 629.84 414.81 629.92 415.21 631.03 415.6 631 415.98 631.58 416.34 632.54 416.7 632.86 417.06 633.48 417.42 633.97 417.8 634.61 418.19 635.58 418.59 635.98 419 636.86 419.41 637.32 419.81 637.99 420.2 638.92 420.57 639.14 420.91 639.74 421.26 640.47 421.61 640.5 421.98 640.97 422.4 641.99 422.85 642.39 423.31 642.42 423.8 642.81 424.32 643.62 424.89 644.22 425.5 644.19 426.16 645.25 426.87 645.76 427.61 646.15 428.4 646.63 429.23 647.01 430.1 647.58 431.01 648.86 431.96 649.02 432.96 650.02 433.99 650.36 435.07 651.38 436.2 651.77 437.38 652.04 438.62 652.4 439.9 653.17 441.21 653.08 442.55 653.51 443.9 654.04 445.37 654.51 446.99 654.58 448.63 654.54 450.17 655.15 451.47 654.79 452.4 654.76" stroke="#ff7a0a"/>
<path d="M358.4 685.04 359.2 685.53 360.01 685.46 360.81 685.09 361.61 685.25 362.42 685.2 363.22 685.33 364.02 685.41 364.83 684.91 365.63 684.85 366.43 685.4 367.24 685.1 368.04 685.31 368.84 684.75 369.65 685.04 370.45 685.21 371.25 684.85 372.06 685.32 372.86 685.26 373.66 684.63 374.47 684.59 375.27 684.92 376.08 685.17 376.88 684.74 377.68 684.59 378.49 684.69 379.29 684.38 380.09 684.46 380.9 684.57 381.7 684.56 382.5 684.32 383.31 684.26 384.11 684.18 384.91 684.28 385.72 684.09 386.52 683.82 387.32 684.3 388.13 684 388.93 683.96 389.73 683.52 390.54 683.95 391.34 683.71 392.14 683.03 392.95 682.99 393.75 683.05 394.55 682.81 395.36 682.7 396.16 682.05 396.96 682 397.77 681.51 398.57 680.83 399.37 680.56 400.18 680.24 400.98 679.63 401.78 678.74 402.59 678.08 403.39 676.9 404.19 676.19 405 675.64 405.8 674.37 406.61 673.12 407.41 672.23 408.21 671.12 409.02 669.83 409.82 668.29 410.62 666.98 411.43 665.65 412.23 664.46 413.03 662.94 413.84 661.56 414.64 660.44 415.44 659.06 416.25 658.18 417.05 657.96 417.85 657.72 418.66 657.27 419.46 657.22 420.26 657.42 421.07 658.25 421.87 659.41 422.67 660.28 423.48 661.27 424.28 662.76 425.08 663.65 425.89 665.23 426.69 666.92 427.49 668.04 428.3 669.3 429.1 670.47 429.9 671.91 430.71 673.38 431.51 673.82 432.31 675.41 433.12 676.4 433.92 677.34 434.72 678.06 435.53 678.86 436.33 679.34 437.14 679.98 437.94 680.44 438.74 680.68 439.55 681.7 440.35 681.89 441.15 681.99 441.96 682.52 442.76 682.79 443.56 682.95 444.37 683.17 445.17 683.5 445.97 683.74 446.78 683.89 447.58 683.93 448.38 683.76 449.19 684.02 449.99 684.1 450.79 684.48 451.6 684.77 452.4 684.81" stroke="#127a7a"/>
<path d="M358.4 713.12 359.2 713.09 360.01 712.44 360.81 712.43 361.61 712.92 362.42 712.82 363.22 712.75 364.02 712.46 364.83 712.63 365.63 712.6 366.43 712.54 367.24 712.21 368.04 712.36 368.84 712.29 369.65 712.48 370.45 712.62 371.25 712.54 372.06 712.21 372.86 712.09 373.66 711.91 374.47 711.68 375.27 711.61 376.08 711.85 376.88 711.68 377.68 711.65 378.49 711.92 379.29 711.58 380.09 711.51 380.9 711.18 381.7 710.92 382.5 711.01 383.31 710.75 384.11 710.86 384.91 711.04 385.72 710.63 386.52 710.08 387.32 710.36 388.13 710.03 388.93 709.71 389.73 709.51 390.54 709.05 391.34 708.67 392.14 707.92 392.95 707.86 393.75 707.29 394.55 706.11 395.36 705.84 396.16 705.06 396.96 704.06 397.77 703.22 398.57 702.22 399.37 701.47 400.18 700.06 400.98 699.1 401.78 697.51 402.59 696.57 403.39 695.22 404.19 693.52 405 692.19 405.8 691.04 406.61 689.53 407.41 688.07 408.21 686.7 409.02 685.72 409.82 685.12 410.62 684.1 411.43 684.22 412.23 683.64 413.03 684.23 413.84 684.21 414.64 685.32 415.44 686.01 416.25 686.92 417.05 688.12 417.85 689.5 418.66 690.81 419.46 692 420.26 693.33 421.07 694.92 421.87 696.56 422.67 697.64 423.48 698.5 424.28 700.19 425.08 701.23 425.89 702.38 426.69 702.84 427.49 704.1 428.3 704.43 429.1 705.58 429.9 705.98 430.71 706.55 431.51 707.54 432.31 707.49 433.12 708.21 433.92 708.83 434.72 708.74 435.53 709.02 436.33 709.76 437.14 709.68 437.94 710.1 438.74 709.81 439.55 710.21 440.35 710.23 441.15 710.71 441.96 710.42 442.76 711.14 443.56 710.59 444.37 711.17 445.17 710.76 445.97 711 446.78 711.46 447.58 711.06 448.38 711.14 449.19 711.55 449.99 711.39 450.79 711.19 451.6 711.9 452.4 711.36" stroke="#aaeafc"/>
<path d="M358.4 741.82 359.2 742.01 360.01 741.88 360.81 742.02 361.61 742.02 362.42 741.6 363.22 741.55 364.02 742.1 364.83 741.67 365.63 741.63 366.43 742.13 367.24 741.74 368.04 741.96 368.84 741.68 369.65 741.76 370.45 741.38 371.25 741.68 372.06 741.8 372.86 741.51 373.66 741.62 374.47 741.52 375.27 741.04 376.08 741.46 376.88 741.29 377.68 741.02 378.49 740.75 379.29 741.26 380.09 740.9 380.9 740.98 381.7 740.99 382.5 740.77 383.31 740.79 384.11 740.29 384.91 740.43 385.72 740.02 386.52 740.18 387.32 739.94 388.13 739.16 388.93 738.94 389.73 738.7 390.54 738.9 391.34 738.17 392.14 737.89 392.95 737.2 393.75 736.82 394.55 736.15 395.36 735.48 396.16 734.91 396.96 734.11 397.77 733.44 398.57 732.3 399.37 731.4 400.18 730.19 400.98 729.02 401.78 727.44 402.59 725.64 403.39 724.59 404.19 723.06 405 721.34 405.8 719.38 406.61 717.72 407.41 715.61 408.21 714.31 409.02 712.46 409.82 710.69 410.62 709.13 411.43 708.49 412.23 707.64 413.03 706.36 413.84 706.54 414.64 706.29 415.44 706.48 416.25 707.27 417.05 708.59 417.85 709.89 418.66 710.75 419.46 712.73 420.26 714.03 421.07 716.25 421.87 717.76 422.67 719.92 423.48 721.72 424.28 723.08 425.08 725.04 425.89 726.1 426.69 727.39 427.49 729.12 428.3 729.99 429.1 731.27 429.9 732.5 430.71 733.63 431.51 734.21 432.31 734.94 433.12 736.25 433.92 736.53 434.72 737.57 435.53 738.06 436.33 738.17 437.14 738.65 437.94 739.07 438.74 739.49 439.55 739.75 440.35 740 441.15 740.28 441.96 740.72 442.76 740.61 443.56 740.73 444.37 741.09 445.17 740.9 445.97 741.08 446.78 741.68 447.58 741.47 448.38 741.6 449.19 741.32 449.99 741.7 450.79 741.9 451.6 741.59 452.4 742.08" stroke="#b2dcf2"/>
<path d="M358.4 772.02 359.2 771.9 360.01 772.09 360.81 771.89 361.61 771.81 362.42 772.02 363.22 772.36 364.02 772.25 364.83 772.2 365.63 771.79 366.43 771.98 367.24 771.77 368.04 771.67 368.84 771.59 369.65 771.63 370.45 772.09 371.25 771.98 372.06 771.93 372.86 771.88 373.66 771.41 374.47 771.45 375.27 771.62 376.08 771.64 376.88 771.67 377.68 771.63 378.49 771.01 379.29 771.31 380.09 771.29 380.9 771.09 381.7 770.78 382.5 770.9 383.31 770.53 384.11 771.02 384.91 770.85 385.72 770.5 386.52 770.19 387.32 770.45 388.13 770.04 388.93 770.06 389.73 769.82 390.54 769.33 391.34 768.99 392.14 768.81 392.95 768.34 393.75 767.76 394.55 767.42 395.36 767.28 396.16 766.2 396.96 765.59 397.77 765.33 398.57 764.35 399.37 763.73 400.18 762.81 400.98 761.77 401.78 761.21 402.59 759.56 403.39 758.55 404.19 757.19 405 756.22 405.8 754.66 406.61 753.37 407.41 752.3 408.21 750.67 409.02 749.54 409.82 748.57 410.62 746.9 411.43 745.91 412.23 745.25 413.03 745.07 413.84 744.65 414.64 744.33 415.44 744.6 416.25 744.95 417.05 745.83 417.85 746.42 418.66 747.93 419.46 749.24 420.26 750.54 421.07 751.7 421.87 753.2 422.67 753.88 423.48 755.39 424.28 757.15 425.08 758.25 425.89 759.17 426.69 760.65 427.49 761.47 428.3 762.58 429.1 763.11 429.9 763.87 430.71 764.8 431.51 765.28 432.31 766.08 433.12 767.05 433.92 767.11 434.72 767.34 435.53 767.77 436.33 768.22 437.14 768.97 437.94 768.96 438.74 769.17 439.55 769.26 440.35 770.08 441.15 769.86 441.96 769.87 442.76 769.91 443.56 770.04 444.37 770.23 445.17 770.69 445.97 770.42 446.78 770.43 447.58 770.83 448.38 770.73 449.19 771.32 449.99 770.77 450.79 771.12 451.6 771.34 452.4 771.14" stroke="#9fd2ee"/>
<path d="M358.4 800.49 359.2 800.56 360.01 800.58 360.81 800.67 361.61 800.51 362.42 800.62 363.22 799.97 364.02 800.26 364.83 800.57 365.63 800.35 366.43 800.5 367.24 799.92 368.04 800.14 368.84 799.96 369.65 800.14 370.45 800.13 371.25 799.7 372.06 799.81 372.86 799.81 373.66 800.22 374.47 800.07 375.27 799.59 376.08 799.99 376.88 799.47 377.68 799.75 378.49 799.35 379.29 799.19 380.09 799.73 380.9 799.19 381.7 799.11 382.5 799.55 383.31 799.38 384.11 798.86 384.91 799.21 385.72 798.78 386.52 798.73 387.32 798.24 388.13 798.57 388.93 798.19 389.73 798.15 390.54 797.84 391.34 797.13 392.14 796.84 392.95 796.33 393.75 795.88 394.55 795.34 395.36 794.96 396.16 794.55 396.96 793.44 397.77 793.13 398.57 792.03 399.37 791.05 400.18 790.34 400.98 788.93 401.78 787.55 402.59 786.28 403.39 784.95 404.19 782.91 405 781.87 405.8 779.44 406.61 778.12 407.41 776.31 408.21 773.84 409.02 772.5 409.82 770.38 410.62 768.81 411.43 766.86 412.23 765.56 413.03 764.6 413.84 764.41 414.64 763.52 415.44 763.94 416.25 764.48 417.05 765.26 417.85 765.94 418.66 767.32 419.46 769.03 420.26 770.95 421.07 772.33 421.87 774.67 422.67 776.62 423.48 778.55 424.28 779.82 425.08 782.22 425.89 783.31 426.69 785.08 427.49 786.76 428.3 788.36 429.1 789.23 429.9 790.81 430.71 791.62 431.51 792.42 432.31 793.3 433.12 793.99 433.92 794.62 434.72 795.29 435.53 796.23 436.33 796.94 437.14 796.79 437.94 797.1 438.74 798.1 439.55 798.09 440.35 798.28 441.15 798.4 441.96 798.87 442.76 799.23 443.56 799.15 444.37 799.28 445.17 799.17 445.97 799.91 446.78 799.42 447.58 799.85 448.38 800.2 449.19 799.8 449.99 800.32 450.79 800.56 451.6 800.41 452.4 800.6" stroke="#36c3f2"/>
<path d="M358.4 829.71 359.2 829.71 360.01 829.46 360.81 829.29 361.61 829.09 362.42 829.54 363.22 829.39 364.02 829.57 364.83 829.28 365.63 829.54 366.43 829.16 367.24 829.51 368.04 829.43 368.84 829.18 369.65 829.24 370.45 829.31 371.25 828.93 372.06 829.15 372.86 829.29 373.66 828.87 374.47 829.2 375.27 829.07 376.08 829.13 376.88 828.72 377.68 828.5 378.49 828.93 379.29 828.87 380.09 828.55 380.9 828.22 381.7 828.21 382.5 828.43 383.31 828.09 384.11 828.45 384.91 828.08 385.72 827.68 386.52 827.85 387.32 827.49 388.13 827.71 388.93 827.5 389.73 827 390.54 826.84 391.34 826.6 392.14 826.35 392.95 826.11 393.75 825.04 394.55 824.8 395.36 824.45 396.16 823.64 396.96 823.17 397.77 822.07 398.57 821.78 399.37 820.6 400.18 819.27 400.98 818.51 401.78 817.01 402.59 815.56 403.39 814.28 404.19 812.44 405 810.8 405.8 809.47 406.61 807.47 407.41 805.05 408.21 803.61 409.02 801.08 409.82 799.33 410.62 797.84 411.43 795.87 412.23 794.07 413.03 792.79 413.84 791.77 414.64 790.92 415.44 791.26 416.25 790.73 417.05 791.52 417.85 792.66 418.66 793.65 419.46 795.57 420.26 796.77 421.07 799.15 421.87 801.05 422.67 802.9 423.48 805.07 424.28 806.73 425.08 808.92 425.89 810.74 426.69 812.3 427.49 813.92 428.3 815.63 429.1 816.85 429.9 817.94 430.71 819.61 431.51 820.37 432.31 821.52 433.12 822.62 433.92 823 434.72 823.61 435.53 824.32 436.33 825.22 437.14 825.56 437.94 825.94 438.74 826.47 439.55 827.16 440.35 827 441.15 827.39 441.96 827.97 442.76 828.01 443.56 827.97 444.37 828.29 445.17 828.46 445.97 828.38 446.78 828.68 447.58 828.76 448.38 829.23 449.19 829 449.99 829.34 450.79 829.65 451.6 829.71 452.4 829.41" stroke="#12a2dd"/>
<path d="M358.4 858.88 359.2 858.74 360.01 859.08 360.81 858.66 361.61 858.97 362.42 858.83 363.22 858.6 364.02 858.89 364.83 858.54 365.63 858.8 366.43 858.52 367.24 858.51 368.04 858.72 368.84 858.97 369.65 858.45 370.45 858.49 371.25 858.73 372.06 858.92 372.86 858.62 373.66 858.46 374.47 858.82 375.27 858.12 376.08 858.64 376.88 858.18 377.68 858.02 378.49 857.94 379.29 858.01 380.09 858.29 380.9 857.77 381.7 857.97 382.5 857.92 383.31 857.63 384.11 857.65 384.91 857.19 385.72 857.06 386.52 857.01 387.32 857.19 388.13 856.83 388.93 856.55 389.73 856.52 390.54 856.18 391.34 855.79 392.14 855.81 392.95 855.38 393.75 854.65 394.55 854.42 395.36 853.85 396.16 853.5 396.96 852.73 397.77 851.66 398.57 851.29 399.37 849.75 400.18 848.9 400.98 847.98 401.78 846.29 402.59 845.13 403.39 843.31 404.19 842.13 405 840.47 405.8 838.5 406.61 836.79 407.41 834.4 408.21 832.62 409.02 830.48 409.82 828.42 410.62 826.35 411.43 824.74 412.23 823.13 413.03 821.34 413.84 820.33 414.64 819.12 415.44 819.18 416.25 819.17 417.05 819.87 417.85 820.6 418.66 821.43 419.46 823 420.26 824.93 421.07 826.38 421.87 828.7 422.67 830.57 423.48 832.62 424.28 834.64 425.08 837.14 425.89 838.63 426.69 840.55 427.49 842.39 428.3 844.36 429.1 845.31 429.9 846.97 430.71 848.32 431.51 849.72 432.31 850.73 433.12 851.71 433.92 852.16 434.72 853.02 435.53 853.67 436.33 854.64 437.14 855.23 437.94 855.15 438.74 855.59 439.55 856.01 440.35 856.34 441.15 856.82 441.96 857.16 442.76 857.17 443.56 857.2 444.37 857.69 445.17 857.83 445.97 858.13 446.78 858.54 447.58 858.5 448.38 858.5 449.19 858.69 449.99 858.84 450.79 858.5 451.6 859.19 452.4 859.2" stroke="#1187ab"/>
<path d="M358.4 887.21 359.2 887.71 360.01 887.1 360.81 887.49 361.61 887.04 362.42 887.13 363.22 887.63 364.02 887.06 364.83 887.34 365.63 887.18 366.43 887.15 367.24 887.15 368.04 886.91 368.84 887.32 369.65 886.77 370.45 886.83 371.25 886.64 372.06 886.77 372.86 886.83 373.66 887.12 374.47 886.71 375.27 886.47 376.08 886.51 376.88 886.97 377.68 886.25 378.49 886.57 379.29 886.33 380.09 886.45 380.9 886.14 381.7 886.29 382.5 886.06 383.31 886.06 384.11 886.12 384.91 885.77 385.72 885.32 386.52 885.11 387.32 885.56 388.13 885.06 388.93 884.64 389.73 884.93 390.54 884.42 391.34 884.23 392.14 884 392.95 883.21 393.75 882.83 394.55 882.72 395.36 881.65 396.16 881.47 396.96 880.31 397.77 879.94 398.57 879.07 399.37 878.26 400.18 877.09 400.98 875.63 401.78 874.08 402.59 872.59 403.39 871.26 404.19 869.52 405 867.37 405.8 865.98 406.61 863.63 407.41 861.59 408.21 859.01 409.02 856.74 409.82 854.28 410.62 852.26 411.43 850.04 412.23 848.14 413.03 846.31 413.84 845.14 414.64 844.05 415.44 842.83 416.25 842.73 417.05 842.78 417.85 843.8 418.66 845.11 419.46 846.03 420.26 848.2 421.07 849.87 421.87 851.83 422.67 854.62 423.48 856.63 424.28 858.82 425.08 861.27 425.89 863.33 426.69 865.56 427.49 867.58 428.3 869.44 429.1 871.32 429.9 872.73 430.71 874.09 431.51 875.45 432.31 876.71 433.12 878.13 433.92 879.03 434.72 880.25 435.53 880.85 436.33 881.72 437.14 882.55 437.94 882.48 438.74 882.95 439.55 883.49 440.35 884.06 441.15 884.54 441.96 884.97 442.76 884.98 443.56 885.66 444.37 885.21 445.17 886 445.97 885.75 446.78 886.38 447.58 885.95 448.38 886.75 449.19 886.74 449.99 887.02 450.79 886.85 451.6 886.67 452.4 887.33" stroke="#0b6fa8"/>
<path d="M358.4 907.48 359.11 907.93 360.1 907.38 361.26 907.6 362.53 907.37 363.8 905.94 365 905.53 366.13 906.83 367.27 905.3 368.41 904.84 369.58 905.96 370.77 904.51 372 904.87 373.28 903.81 374.59 903.81 375.94 902.51 377.3 903.17 378.66 903.34 380 902.35 381.34 902.48 382.7 902.04 384.06 900.53 385.41 901.64 386.72 901.03 388 900.2 389.25 899.44 390.48 900.9 391.69 899.93 392.85 900.23 393.96 900.36 395 899.83 395.97 900.04 396.89 898.82 397.75 899.45 398.56 898.52 399.31 899.23 400 898.76 400.62 896.77 401.15 896.39 401.62 896.03 402.07 896.93 402.52 895.18 403 894.75 403.5 893.14 404 892.45 404.5 891.17 405 889.9 405.5 888.8 406 887.56 406.5 886.53 407 885.06 407.5 883.91 408 882.57 408.5 881.44 409 880.12 409.49 878.76 409.96 878.31 410.44 877.52 410.93 876.7 411.44 875.8 412 875.35 412.61 874.59 413.26 874.75 413.94 874.4 414.63 874.11 415.32 873.91 416 874.45 416.68 874.53 417.37 873.91 418.06 874.47 418.74 874.33 419.39 874.39 420 874.86 420.55 875.68 421.04 876.36 421.5 876.48 421.96 877.68 422.45 878.19 423 879.65 423.61 880.51 424.26 882.17 424.94 883.62 425.63 884.71 426.32 886.48 427 887.37 427.67 888.56 428.33 890.31 429 891.3 429.67 892.77 430.33 894.22 431 895.58 431.66 896.4 432.3 897.41 432.94 899.02 433.59 899.61 434.28 900.97 435 901.78 435.78 902.21 436.59 903.02 437.44 903.75 438.3 904.45 439.16 904.94 440 905.34 440.84 905.7 441.7 906.13 442.56 905.94 443.41 905.94 444.22 906.16 445 905.82 445.73 905.82 446.43 906.21 447.1 905.76 447.75 905.62 448.38 905.06 449 905.14 449.64 905.02 450.3 904.33 450.95 904.43 451.54 904.14 452.04 903.48 452.4 903.69" stroke="#7b0d84"/>
</g>
<g clip-path="url(#cre)" fill="none" stroke-width="2.4" stroke-linejoin="round">
<path d="M474 660.58 474.8 660.29 475.6 660.2 476.4 660.12 477.2 659.48 478 659.52 478.81 659.47 479.61 659.17 480.41 658.64 481.21 658.01 482.01 657.78 482.81 657.74 483.61 656.61 484.41 656.2 485.21 656.01 486.01 654.96 486.81 654.02 487.61 653.24 488.42 652.71 489.22 651.28 490.02 650.22 490.82 649.13 491.62 647.94 492.42 646.3 493.22 644.5 494.02 643.23 494.82 641.15 495.62 639.4 496.42 637.6 497.22 636.02 498.03 633.74 498.83 631.99 499.63 629.57 500.43 627.48 501.23 625.38 502.03 623.88 502.83 622.09 503.63 619.86 504.43 618.24 505.23 616.64 506.03 615.87 506.84 614.67 507.64 613.88 508.44 613.87 509.24 613.8 510.04 614.11 510.84 614.81 511.64 616.49 512.44 618.15 513.24 620.1 514.04 622.19 514.84 625.18 515.64 627.69 516.45 630.18 517.25 633 518.05 635.28 518.85 637.62 519.65 639.85 520.45 642.47 521.25 644.55 522.05 646.49 522.85 648.72 523.65 650.31 524.45 651.34 525.25 653.26 526.06 653.89 526.86 655.45 527.66 656.2 528.46 657.36 529.26 658.28 530.06 658.66 530.86 659.41 531.66 659.42 532.46 660.3 533.26 660.3 534.06 660.88 534.86 661.1 535.67 661.18 536.47 661.88 537.27 661.63 538.07 661.94 538.87 661.99 539.67 662.54 540.47 662.43 541.27 662.38 542.07 662.49 542.87 662.74 543.67 663.04 544.48 662.79 545.28 662.9 546.08 663.43 546.88 663.42 547.68 663.23 548.48 663.43 549.28 663.37 550.08 663.54 550.88 663.69 551.68 663.64 552.48 663.69 553.28 663.77 554.09 663.88 554.89 664.11 555.69 664.4 556.49 664.29 557.29 664.2 558.09 663.94 558.89 664.12 559.69 664.47 560.49 664.36 561.29 664.72 562.09 664.8 562.89 664.42 563.7 664.51 564.5 664.5 565.3 664.81 566.1 664.44 566.9 664.61 567.7 665.06" stroke="#ff7a0a"/>
<path d="M474 687.77 474.8 688.07 475.6 687.97 476.4 687.8 477.2 687.54 478 687.87 478.81 687.8 479.61 687.5 480.41 687.4 481.21 687.11 482.01 686.83 482.81 686.97 483.61 686.98 484.41 686.47 485.21 686.8 486.01 686.22 486.81 686.01 487.61 685.65 488.42 686.05 489.22 685.58 490.02 685.34 490.82 684.79 491.62 683.97 492.42 683.71 493.22 683.31 494.02 682.46 494.82 682.4 495.62 681.28 496.42 680.34 497.22 679.93 498.03 678.48 498.83 677.99 499.63 676.52 500.43 675.34 501.23 673.85 502.03 672.51 502.83 670.76 503.63 669.02 504.43 667.87 505.23 665.61 506.03 664.09 506.84 661.72 507.64 660.22 508.44 658.1 509.24 655.91 510.04 653.82 510.84 651.61 511.64 649.69 512.44 647.31 513.24 645.73 514.04 644.28 514.84 642.35 515.64 641.58 516.45 640.53 517.25 639.46 518.05 639.01 518.85 638.98 519.65 639.28 520.45 640.55 521.25 641.42 522.05 642.86 522.85 644.92 523.65 647.62 524.45 650.26 525.25 652.48 526.06 655.1 526.86 657.77 527.66 660.5 528.46 662.65 529.26 665.34 530.06 667.61 530.86 669.82 531.66 671.54 532.46 673.4 533.26 675.23 534.06 677.19 534.86 678.19 535.67 679.63 536.47 680.55 537.27 681.4 538.07 682.25 538.87 683.54 539.67 684.19 540.47 684.49 541.27 685.22 542.07 685.65 542.87 686.2 543.67 686.57 544.48 686.48 545.28 687.14 546.08 687.34 546.88 687.28 547.68 687.66 548.48 687.54 549.28 687.6 550.08 687.64 550.88 688.2 551.68 687.8 552.48 687.84 553.28 688.44 554.09 688.5 554.89 688.38 555.69 688.7 556.49 688.22 557.29 688.43 558.09 688.51 558.89 688.66 559.69 688.54 560.49 688.52 561.29 688.76 562.09 689.2 562.89 689.31 563.7 689.18 564.5 689.04 565.3 688.92 566.1 689.45 566.9 689.18 567.7 689.36" stroke="#127a7a"/>
<path d="M474 711.12 474.8 710.46 475.6 710.28 476.4 710.86 477.2 710.16 478 709.97 478.81 710.18 479.61 709.78 480.41 709.95 481.21 709.25 482.01 709.48 482.81 708.72 483.61 708.56 484.41 708.4 485.21 707.77 486.01 707.43 486.81 706.71 487.61 705.61 488.42 705.49 489.22 704.49 490.02 703.43 490.82 702.39 491.62 701.81 492.42 700.48 493.22 699.49 494.02 698.05 494.82 696.75 495.62 694.95 496.42 693.42 497.22 691.66 498.03 689.63 498.83 688.26 499.63 685.89 500.43 684.25 501.23 682.38 502.03 680.16 502.83 677.8 503.63 676.32 504.43 674.31 505.23 672.18 506.03 670.41 506.84 669.25 507.64 667.6 508.44 667.17 509.24 666.09 510.04 665.6 510.84 665.34 511.64 665.7 512.44 666.55 513.24 667.25 514.04 668.83 514.84 670.85 515.64 672.8 516.45 675.36 517.25 677.81 518.05 680.3 518.85 683.05 519.65 685.52 520.45 687.73 521.25 690.79 522.05 692.66 522.85 694.9 523.65 696.93 524.45 699.2 525.25 700.97 526.06 702.27 526.86 703.64 527.66 704.74 528.46 706.47 529.26 707.01 530.06 708.2 530.86 708.88 531.66 709.59 532.46 710.24 533.26 710.68 534.06 711.05 534.86 711.83 535.67 712.39 536.47 712.61 537.27 712.59 538.07 713.2 538.87 712.98 539.67 713.44 540.47 713.92 541.27 714.16 542.07 714 542.87 714.42 543.67 714.31 544.48 714.46 545.28 714.63 546.08 715.03 546.88 714.96 547.68 714.88 548.48 715.16 549.28 715.2 550.08 715.09 550.88 715.48 551.68 715.59 552.48 715.52 553.28 715.84 554.09 715.27 554.89 715.69 555.69 715.85 556.49 715.72 557.29 715.67 558.09 716.11 558.89 715.99 559.69 715.94 560.49 715.85 561.29 716.56 562.09 716.19 562.89 716.09 563.7 716.22 564.5 716.3 565.3 716.79 566.1 716.37 566.9 716.49 567.7 716.42" stroke="#aaeafc"/>
<path d="M474 735.5 474.8 735.45 475.6 735.34 476.4 734.69 477.2 734.95 478 734.73 478.81 734.68 479.61 734.26 480.41 734.14 481.21 734.13 482.01 733.76 482.81 733.68 483.61 733.11 484.41 732.84 485.21 732.92 486.01 732.32 486.81 731.93 487.61 731.57 488.42 730.74 489.22 729.89 490.02 729.68 490.82 728.76 491.62 727.93 492.42 726.95 493.22 726.14 494.02 724.57 494.82 723.61 495.62 722 496.42 720.71 497.22 719.25 498.03 717.38 498.83 715.52 499.63 714.01 500.43 712.32 501.23 710.32 502.03 708.26 502.83 706.4 503.63 704.08 504.43 702.1 505.23 700.25 506.03 698.72 506.84 696.51 507.64 694.82 508.44 693.34 509.24 692.04 510.04 691.18 510.84 690.64 511.64 690.36 512.44 689.88 513.24 690.16 514.04 690.83 514.84 692.02 515.64 693.93 516.45 695.69 517.25 697.66 518.05 699.92 518.85 702.89 519.65 705.4 520.45 708.07 521.25 710.22 522.05 712.93 522.85 715.6 523.65 717.67 524.45 720.09 525.25 721.58 526.06 724.02 526.86 725.11 527.66 726.95 528.46 728.11 529.26 729.95 530.06 731.02 530.86 732.25 531.66 733.05 532.46 733.95 533.26 734.38 534.06 735.31 534.86 735.69 535.67 735.89 536.47 736.75 537.27 736.71 538.07 736.91 538.87 737.11 539.67 737.65 540.47 737.69 541.27 738.42 542.07 738.62 542.87 738.28 543.67 738.37 544.48 738.81 545.28 738.7 546.08 739.1 546.88 739.41 547.68 739.14 548.48 739.37 549.28 739.81 550.08 739.6 550.88 739.63 551.68 740.11 552.48 740.14 553.28 740.29 554.09 740.23 554.89 740.12 555.69 740.4 556.49 740.58 557.29 740.52 558.09 740.32 558.89 740.43 559.69 740.58 560.49 740.91 561.29 740.83 562.09 740.89 562.89 741.15 563.7 740.71 564.5 741.14 565.3 741 566.1 741.22 566.9 741.47 567.7 741.12" stroke="#b2dcf2"/>
<path d="M474 761.85 474.8 761.87 475.6 761.33 476.4 761.81 477.2 761.14 478 761.36 478.81 760.82 479.61 761.14 480.41 760.54 481.21 760.74 482.01 760.54 482.81 760.32 483.61 759.81 484.41 759.79 485.21 759.52 486.01 758.5 486.81 758.33 487.61 758.12 488.42 757.4 489.22 756.55 490.02 755.74 490.82 755.41 491.62 753.93 492.42 753.45 493.22 752.46 494.02 750.84 494.82 749.73 495.62 748.39 496.42 747.13 497.22 745.5 498.03 744.26 498.83 742.59 499.63 740.4 500.43 738.97 501.23 736.49 502.03 734.57 502.83 733 503.63 731.11 504.43 729.16 505.23 727.36 506.03 725.41 506.84 723.23 507.64 721.94 508.44 720.61 509.24 718.78 510.04 718.05 510.84 717.06 511.64 716.6 512.44 716.68 513.24 717.05 514.04 717.98 514.84 718.54 515.64 720.35 516.45 722.57 517.25 724.54 518.05 726.7 518.85 728.95 519.65 731.74 520.45 734.02 521.25 736.8 522.05 739.26 522.85 741.44 523.65 743.98 524.45 745.84 525.25 747.87 526.06 749.97 526.86 751.27 527.66 752.77 528.46 754.45 529.26 755.61 530.06 757.05 530.86 757.62 531.66 758.59 532.46 759.16 533.26 760.12 534.06 760.63 534.86 761.26 535.67 761.94 536.47 761.84 537.27 762.86 538.07 762.98 538.87 763.33 539.67 763.38 540.47 763.63 541.27 763.71 542.07 763.88 542.87 763.92 543.67 764.13 544.48 764.26 545.28 764.42 546.08 764.94 546.88 764.98 547.68 764.98 548.48 764.64 549.28 764.91 550.08 765.2 550.88 765.39 551.68 765.29 552.48 765.52 553.28 765.79 554.09 765.42 554.89 765.57 555.69 765.91 556.49 765.67 557.29 766.02 558.09 765.85 558.89 765.65 559.69 766.03 560.49 765.81 561.29 766.37 562.09 766.47 562.89 766.31 563.7 766.62 564.5 766.19 565.3 766.41 566.1 766.27 566.9 766.23 567.7 766.83" stroke="#9fd2ee"/>
<path d="M474 788.21 474.8 788.52 475.6 788.38 476.4 787.85 477.2 788.21 478 787.93 478.81 787.39 479.61 787.89 480.41 787.25 481.21 787.11 482.01 787 482.81 786.89 483.61 786.32 484.41 786.43 485.21 786.22 486.01 785.64 486.81 785.44 487.61 784.87 488.42 784.51 489.22 783.49 490.02 782.99 490.82 782.37 491.62 781.34 492.42 781.09 493.22 779.92 494.02 778.51 494.82 777.73 495.62 776.39 496.42 774.92 497.22 773.49 498.03 772.19 498.83 770.31 499.63 768.96 500.43 767.15 501.23 765.02 502.03 763.62 502.83 761.05 503.63 759.13 504.43 757.53 505.23 755.07 506.03 753.2 506.84 751.32 507.64 749.35 508.44 747.62 509.24 746 510.04 744.56 510.84 743.05 511.64 742.62 512.44 741.58 513.24 741.05 514.04 741.26 514.84 741.96 515.64 742.73 516.45 743.94 517.25 745.66 518.05 747.5 518.85 750.03 519.65 752.28 520.45 754.61 521.25 757.24 522.05 759.8 522.85 762.76 523.65 765.37 524.45 767.66 525.25 769.54 526.06 771.61 526.86 774.14 527.66 775.57 528.46 777.09 529.26 778.9 530.06 780.3 530.86 781.48 531.66 782.51 532.46 783.38 533.26 784.37 534.06 785.1 534.86 785.92 535.67 786.33 536.47 786.77 537.27 787.65 538.07 787.42 538.87 788.2 539.67 788.26 540.47 788.79 541.27 788.95 542.07 789.05 542.87 789.27 543.67 789.16 544.48 789.16 545.28 789.81 546.08 789.59 546.88 789.6 547.68 790.2 548.48 790.15 549.28 789.85 550.08 790.28 550.88 790.11 551.68 790.69 552.48 790.35 553.28 790.89 554.09 790.73 554.89 790.42 555.69 790.71 556.49 791.16 557.29 791.04 558.09 790.71 558.89 790.91 559.69 790.9 560.49 790.82 561.29 791.22 562.09 791.34 562.89 791.05 563.7 791.33 564.5 791.59 565.3 791.66 566.1 791.19 566.9 791.16 567.7 791.79" stroke="#36c3f2"/>
<path d="M474 814.17 474.8 813.73 475.6 813.67 476.4 813.87 477.2 813.41 478 813.83 478.81 813.72 479.61 813.11 480.41 813.43 481.21 813.17 482.01 813.1 482.81 813.15 483.61 812.97 484.41 812.34 485.21 812.39 486.01 812.07 486.81 811.87 487.61 810.84 488.42 811.07 489.22 810.1 490.02 809.52 490.82 809.27 491.62 808.79 492.42 808.15 493.22 806.94 494.02 806.38 494.82 804.86 495.62 804.46 496.42 802.84 497.22 801.77 498.03 800.13 498.83 798.64 499.63 797.08 500.43 795.88 501.23 794.14 502.03 792.52 502.83 790.69 503.63 788.46 504.43 786.79 505.23 784.33 506.03 782.8 506.84 780.35 507.64 778.87 508.44 776.58 509.24 774.8 510.04 773.19 510.84 771.37 511.64 770.07 512.44 769.34 513.24 768.66 514.04 767.68 514.84 767.74 515.64 767.89 516.45 768.83 517.25 770.09 518.05 770.97 518.85 773.14 519.65 774.96 520.45 777.77 521.25 780.34 522.05 782.72 522.85 785.19 523.65 787.36 524.45 789.89 525.25 792.39 526.06 794.57 526.86 796.77 527.66 799.38 528.46 800.83 529.26 802.96 530.06 804.44 530.86 805.88 531.66 807.26 532.46 808.27 533.26 809.05 534.06 810.04 534.86 810.79 535.67 811.24 536.47 811.86 537.27 812.77 538.07 813.21 538.87 813.93 539.67 814.04 540.47 814.5 541.27 814.54 542.07 814.85 542.87 815.24 543.67 814.88 544.48 815.05 545.28 815.5 546.08 815.55 546.88 815.78 547.68 815.65 548.48 815.83 549.28 815.89 550.08 816.35 550.88 816.04 551.68 816.13 552.48 816.68 553.28 816.58 554.09 816.38 554.89 817.09 555.69 816.85 556.49 817.23 557.29 817.1 558.09 817.09 558.89 817.05 559.69 816.9 560.49 817.57 561.29 817.26 562.09 817.22 562.89 817.16 563.7 817.53 564.5 817.85 565.3 817.49 566.1 817.82 566.9 817.79 567.7 817.71" stroke="#12a2dd"/>
<path d="M474 838.7 474.8 838.71 475.6 838.84 476.4 838.27 477.2 838.12 478 838.59 478.81 838.18 479.61 838.14 480.41 838.36 481.21 837.82 482.01 838.22 482.81 837.8 483.61 837.37 484.41 837.8 485.21 837.37 486.01 836.82 486.81 837.11 487.61 836.79 488.42 836.46 489.22 836.06 490.02 835.9 490.82 834.77 491.62 834.94 492.42 834.15 493.22 833.25 494.02 832.8 494.82 831.83 495.62 831.2 496.42 830.3 497.22 829.14 498.03 827.72 498.83 826.71 499.63 825.34 500.43 824.25 501.23 822.88 502.03 821.18 502.83 819.33 503.63 817.33 504.43 815.88 505.23 813.68 506.03 812.27 506.84 809.73 507.64 808.31 508.44 805.68 509.24 804.29 510.04 802.12 510.84 800.52 511.64 798.77 512.44 797.22 513.24 796.04 514.04 795.26 514.84 794.17 515.64 793.68 516.45 793.8 517.25 793.56 518.05 794.35 518.85 795.57 519.65 797.07 520.45 798.67 521.25 801.2 522.05 803.31 522.85 805.48 523.65 808.17 524.45 810.51 525.25 813.23 526.06 815.54 526.86 818.02 527.66 820.5 528.46 822.74 529.26 824.48 530.06 826.46 530.86 828.22 531.66 829.84 532.46 831.49 533.26 832.29 534.06 833.83 534.86 834.7 535.67 835.85 536.47 836.5 537.27 836.73 538.07 837.39 538.87 838.45 539.67 838.57 540.47 839.21 541.27 839.21 542.07 839.86 542.87 840.04 543.67 840.33 544.48 840.24 545.28 841.07 546.08 841.22 546.88 841.32 547.68 841.39 548.48 841.26 549.28 841.37 550.08 841.95 550.88 841.71 551.68 841.86 552.48 842.31 553.28 842.04 554.09 842.59 554.89 842.12 555.69 842.68 556.49 842.37 557.29 842.35 558.09 842.66 558.89 842.99 559.69 842.56 560.49 842.98 561.29 843.23 562.09 842.72 562.89 843.12 563.7 843.06 564.5 843.23 565.3 843.55 566.1 843.34 566.9 843.3 567.7 843.29" stroke="#1187ab"/>
<path d="M474 861.93 474.8 861.92 475.6 862.22 476.4 861.89 477.2 861.82 478 862 478.81 861.91 479.61 861.69 480.41 861.73 481.21 861.95 482.01 861.33 482.81 861.24 483.61 860.97 484.41 860.93 485.21 860.62 486.01 861 486.81 860.25 487.61 860.4 488.42 859.43 489.22 859.56 490.02 858.81 490.82 858.4 491.62 857.79 492.42 856.85 493.22 856.08 494.02 855.57 494.82 854.28 495.62 853.21 496.42 852.65 497.22 851.38 498.03 849.85 498.83 848.67 499.63 847.48 500.43 845.49 501.23 843.75 502.03 842.25 502.83 840.29 503.63 838.59 504.43 836.47 505.23 835.07 506.03 833.17 506.84 830.95 507.64 829.07 508.44 827.17 509.24 825.94 510.04 824.29 510.84 822.71 511.64 821.13 512.44 820.12 513.24 819.8 514.04 818.93 514.84 819.13 515.64 819.15 516.45 819.55 517.25 820.78 518.05 822.8 518.85 824.23 519.65 826.58 520.45 828.95 521.25 831.13 522.05 833.72 522.85 836.5 523.65 838.93 524.45 841.24 525.25 843.64 526.06 845.84 526.86 847.97 527.66 850.16 528.46 851.73 529.26 853.89 530.06 855.06 530.86 856.45 531.66 858.26 532.46 858.75 533.26 860.07 534.06 861.09 534.86 861.83 535.67 862.82 536.47 863.35 537.27 863.79 538.07 863.93 538.87 865.05 539.67 865.01 540.47 865.34 541.27 865.55 542.07 865.81 542.87 865.99 543.67 866.24 544.48 866.83 545.28 866.75 546.08 867.08 546.88 867.35 547.68 867.1 548.48 867.73 549.28 867.47 550.08 868.04 550.88 868.22 551.68 868.04 552.48 868.07 553.28 868.32 554.09 868.71 554.89 868.87 555.69 868.79 556.49 868.68 557.29 868.78 558.09 869.08 558.89 868.92 559.69 869.34 560.49 869.12 561.29 869.38 562.09 869.43 562.89 869.52 563.7 869.83 564.5 869.94 565.3 869.95 566.1 869.94 566.9 869.85 567.7 869.92" stroke="#0b6fa8"/>
<path d="M474 881.39 474.44 881.67 475.04 881.98 475.75 882.41 476.52 882.63 477.29 883.13 478 882.87 478.67 883.55 479.36 884.3 480.04 884.51 480.72 885.11 481.37 884.96 482 885.58 482.61 885.8 483.21 886.41 483.79 886.81 484.34 886.75 484.85 887.12 485.3 887.25 485.68 887.57 485.99 887.16 486.26 886.32 486.51 886.35 486.75 885.54 487 885.68 487.25 885.31 487.48 885.29 487.71 886.03 487.94 885.76 488.2 885.98 488.5 886.74 488.84 886.96 489.21 886.96 489.6 887.87 490.01 887.96 490.45 888.3 490.9 887.99 491.38 888.3 491.89 887.74 492.41 887.41 492.95 886.73 493.48 885.61 494 884.9 494.51 883.95 495.01 883.03 495.51 882 496 881.11 496.5 880.22 497 878.65 497.5 877.95 498 876.52 498.5 875.24 499 874.26 499.5 872.57 500 870.87 500.5 869.22 501 867.44 501.5 864.94 502 863.48 502.5 860.71 503 859.17 503.5 857.19 504 854.5 504.5 852.92 505 850.57 505.5 848.79 506 846.66 506.49 845.11 506.98 843.76 507.47 842.97 507.96 841.25 508.47 840.59 509 839.8 509.56 839.06 510.15 838.04 510.75 837.59 511.35 837.37 511.94 837.32 512.5 836.73 513.03 837.16 513.56 837.32 514.06 837.6 514.56 837.34 515.03 838.37 515.5 838.21 515.94 838.89 516.37 839.67 516.77 840.54 517.18 840.85 517.58 842.01 518 842.53 518.42 843.16 518.85 843.98 519.28 844.74 519.71 845.59 520.15 846.65 520.6 848.13 521.06 849.57 521.53 850.3 522.01 851.62 522.5 853.75 523 854.96 523.5 856.43 524.01 857.92 524.54 859.83 525.07 861.7 525.61 863.21 526.16 865.03 526.7 866.69 527.25 869.33 527.81 870.88 528.38 873.43 528.93 875.92 529.48 877.63 530 880.16 530.49 882.34 530.96 884.11 531.41 886.17 531.86 887.6 532.32 889.67 532.8 891.25 533.31 893.46 533.84 894.75 534.39 896.47 534.93 898.41 535.47 899.8 536 901.33 536.5 902.38 536.98 903.78 537.45 905.27 537.93 906.34 538.44 907.35 539 908.43 539.61 909.11 540.27 909.99 540.96 911.03 541.66 911.55 542.34 911.81 543 912.2 543.61 912.53 544.2 912.73 544.78 913.19 545.36 913.86 545.96 914.23 546.6 914.2 547.28 914.85 547.99 915.21 548.73 915.51 549.47 915.84 550.23 916.25 551 916.3 551.77 916.86 552.56 916.87 553.35 917.3 554.16 917.78 554.97 917.99 555.8 917.96 556.63 918.64 557.45 918.63 558.28 918.78 559.14 918.55 560.04 919.09 561 919.03 562.11 919.46 563.37 919.43 564.67 919.79 565.91 919.77 566.95 919.95 567.7 919.69" stroke="#7b0d84"/>
</g>
<rect x="358.4" y="597.4" width="94" height="328.6" fill="none" stroke="#555" stroke-width="1.1"/>
<rect x="474" y="597.4" width="93.7" height="328.6" fill="none" stroke="#555" stroke-width="1.1"/>
<path d="M358.4 626.8h-5M358.4 774h-5M358.4 919h-5M474 639h-5M474 766.6h-5M474 894.6h-5M358.4 926v4M394.6 926v3M430.9 926v4M473.3 926v4M503.8 926v3M532.7 926v4" stroke="#222" stroke-width="1.1"/>
<g font-size="12.3" fill="#333" text-anchor="middle"><text x="358" y="946.3">8020</text><text x="431" y="946.3">8030</text><text x="473.6" y="946.3">8043</text><text x="532.4" y="946.3">8050</text></g>
<text x="464.5" y="971.8" font-size="13.8" font-weight="bold" fill="#111" text-anchor="middle">Energy (eV)</text>
<text transform="translate(345.6 778.8) rotate(-90)" font-size="13.7" font-weight="bold" fill="#111" text-anchor="middle">Intensity (a. u.)</text>
<text x="435.6" y="612.6" font-size="10.6" fill="#f4b300" font-weight="bold">K<tspan font-size="7.4" dy="1.8">α2</tspan></text>
<text x="550.6" y="612.6" font-size="10.6" fill="#f4b300" font-weight="bold">K<tspan font-size="7.4" dy="1.8">α1</tspan></text>
<text x="608.5" y="667.4" font-size="12.4" fill="#ff8a1e" text-anchor="end">Cu foil</text>
<text x="610.2" y="692.5" font-size="12.4" fill="#13807e" text-anchor="end">CuO</text>
<text x="612.2" y="720" font-size="12.4" fill="#c6eefc" text-anchor="end">-1.1 V</text>
<text x="612.2" y="744.2" font-size="12.4" fill="#bfe3f5" text-anchor="end">-1.0 V</text>
<text x="612.2" y="769.2" font-size="12.4" fill="#a9d9f2" text-anchor="end">-0.9 V</text>
<text x="611.4" y="796.3" font-size="12.4" fill="#4cc6f2" text-anchor="end">-0.8 V</text>
<text x="613" y="821" font-size="12.4" fill="#22a4dc" text-anchor="end">-0.7 V</text>
<text x="613" y="848.2" font-size="12.4" fill="#1488ad" text-anchor="end">-0.6 V</text>
<text x="613" y="875.8" font-size="12.4" fill="#1a73ad" text-anchor="end">OCV</text>
<text x="568.6" y="923.4" font-size="12.4" fill="#7b0d84">Cu(II)N<tspan font-size="8.4" dy="2.5">4</tspan></text>
</svg></body></html>
